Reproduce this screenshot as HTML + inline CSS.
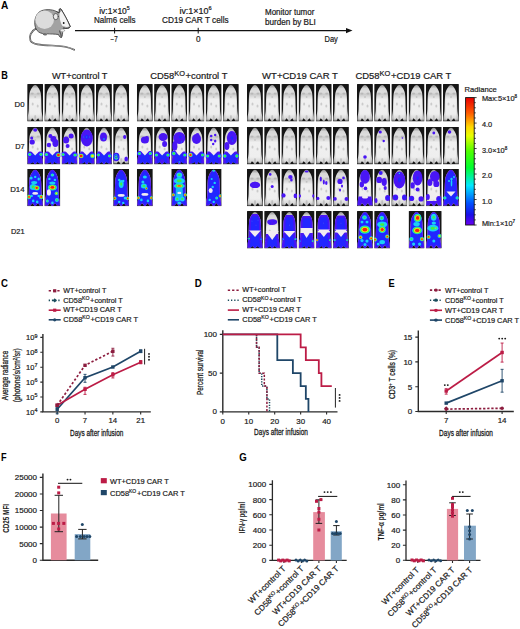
<!DOCTYPE html>
<html><head><meta charset="utf-8"><title>Figure</title>
<style>html,body{margin:0;padding:0;background:#fff;} svg{display:block;} text{font-family:"Liberation Sans", sans-serif;}</style>
</head><body>
<svg xmlns="http://www.w3.org/2000/svg" width="520" height="629" viewBox="0 0 520 629" font-family='"Liberation Sans", sans-serif'>
<rect width="520" height="629" fill="#fff"/>
<text x="1.0" y="9.3" font-size="10.6" font-weight="bold" textLength="7.3" lengthAdjust="spacingAndGlyphs" fill="#000">A</text>
<g stroke-linejoin="round" stroke-linecap="round">
<path d="M36.5,28.3 C31,31 28.6,36.5 30.5,40.6 C32.6,44.6 40,45.1 52,45.5 C62,45.8 69,46.9 74.2,49.8" fill="none" stroke-width="1.7" stroke="#4a4a4a"/>
<path d="M36.5,28.3 C31,31 28.6,36.5 30.5,40.6 C32.6,44.6 40,45.1 52,45.5 C62,45.8 69,46.9 74.2,49.8" fill="none" stroke-width="0.6" stroke="#c8c8c8"/>
<path d="M36,29 C33.5,24 34.5,15 40,11.5 C44,9 52,9 56.5,11.5 L59.1,13 L59.4,9.2 C59.8,8.3 61,8.5 62,10.6 C64.5,15 67.5,20 70.3,26.6 C69.6,28.5 66,29 63.5,28 L62.5,30.5 C62.8,33 62.5,36 61.5,37.4 C60,37.6 59.2,36.5 58.5,34.5 C55,34 50,34 47.5,33.8 C46.5,35.5 43.5,35.5 42.5,33.5 C39.5,33 37.5,31.5 36,29 Z" fill="#a2a2a2" stroke="#3a3a3a" stroke-width="0.8"/>
<ellipse cx="44.6" cy="19.8" rx="9.4" ry="9.2" fill="#dcdcdc"/>
<path d="M59.6,12.6 L61.9,11 C64.4,15.2 67.3,20.2 69.6,26.2 C67.8,27.2 65,27.1 62.6,26.1 C60.2,23 59.2,17 59.6,12.6 Z" fill="#f3f3f3"/>
<path d="M56.5,11.5 L59.1,13 L59.4,9.2 C59.8,8.3 61,8.5 62,10.6 C64.5,15 67.5,20 70.3,26.6 C69.6,28.5 66,29 63.5,28" fill="none" stroke="#3a3a3a" stroke-width="0.8"/>
<ellipse cx="55.8" cy="16.6" rx="2.5" ry="3.1" fill="#e9e9e9" stroke="#3f3f3f" stroke-width="0.75"/>
<circle cx="63.7" cy="23" r="0.9" fill="#111"/>
<path d="M59.6,31 C60.5,33 61.5,35 61.3,37.2" fill="none" stroke="#5a5a5a" stroke-width="1.3"/>
<ellipse cx="62.6" cy="30.4" rx="2.1" ry="1.4" fill="#ededed" stroke="#8a8a8a" stroke-width="0.4"/>
<path d="M43,33 C44,35 46,35 47,33.5" fill="#6a6a6a"/>
</g>
<line x1="75" y1="30.6" x2="348" y2="30.6" stroke="#111" stroke-width="1.1"/>
<path d="M346,27.9 L352.5,30.6 L346,33.3 Z" fill="#111"/>
<line x1="114.6" y1="27.8" x2="114.6" y2="33.5" stroke="#111" stroke-width="1"/>
<line x1="198.2" y1="27.8" x2="198.2" y2="33.5" stroke="#111" stroke-width="1"/>
<text x="99.2" y="13.6" font-size="8.2" textLength="30.6" lengthAdjust="spacingAndGlyphs" fill="#1a1a1a" stroke="#1a1a1a" stroke-width="0.2">iv:1×10<tspan font-size="5.08" dy="-3.12">5</tspan><tspan dy="3.12"></tspan></text>
<text x="94.0" y="23.0" font-size="8.2" textLength="41.6" lengthAdjust="spacingAndGlyphs" fill="#1a1a1a" stroke="#1a1a1a" stroke-width="0.2">Nalm6 cells</text>
<text x="110.6" y="42.0" font-size="8.2" textLength="7.0" lengthAdjust="spacingAndGlyphs" fill="#1a1a1a" stroke="#1a1a1a" stroke-width="0.2">−7</text>
<text x="179.4" y="13.6" font-size="8.2" textLength="32.3" lengthAdjust="spacingAndGlyphs" fill="#1a1a1a" stroke="#1a1a1a" stroke-width="0.2">iv:1×10<tspan font-size="5.08" dy="-3.12">6</tspan><tspan dy="3.12"></tspan></text>
<text x="162.0" y="23.0" font-size="8.2" textLength="66.6" lengthAdjust="spacingAndGlyphs" fill="#1a1a1a" stroke="#1a1a1a" stroke-width="0.2">CD19 CAR T cells</text>
<text x="198.3" y="42.0" font-size="8.2" text-anchor="middle" fill="#1a1a1a" stroke="#1a1a1a" stroke-width="0.2">0</text>
<text x="265.0" y="15.1" font-size="8.2" textLength="49.4" lengthAdjust="spacingAndGlyphs" fill="#1a1a1a" stroke="#1a1a1a" stroke-width="0.2">Monitor tumor</text>
<text x="265.0" y="24.7" font-size="8.2" textLength="50.8" lengthAdjust="spacingAndGlyphs" fill="#1a1a1a" stroke="#1a1a1a" stroke-width="0.2">burden by BLI</text>
<text x="324.5" y="41.9" font-size="8.2" textLength="13.3" lengthAdjust="spacingAndGlyphs" fill="#1a1a1a" stroke="#1a1a1a" stroke-width="0.2">Day</text>
<text x="1.2" y="78.5" font-size="10.6" font-weight="bold" textLength="6.6" lengthAdjust="spacingAndGlyphs" fill="#000">B</text>
<text x="51.9" y="79.0" font-size="9.5" textLength="55.6" lengthAdjust="spacingAndGlyphs" fill="#1a1a1a" stroke="#1a1a1a" stroke-width="0.2">WT+control T</text>
<text x="150.2" y="79.1" font-size="9.5" textLength="77.2" lengthAdjust="spacingAndGlyphs" fill="#1a1a1a" stroke="#1a1a1a" stroke-width="0.2">CD58<tspan font-size="7.5" dy="-3.3">KO</tspan><tspan dy="3.3" dx="0.6">+control T</tspan></text>
<text x="262.1" y="78.9" font-size="9.5" textLength="75.8" lengthAdjust="spacingAndGlyphs" fill="#1a1a1a" stroke="#1a1a1a" stroke-width="0.2">WT+CD19 CAR T</text>
<text x="355.4" y="78.9" font-size="9.5" textLength="95.9" lengthAdjust="spacingAndGlyphs" fill="#1a1a1a" stroke="#1a1a1a" stroke-width="0.2">CD58<tspan font-size="7.5" dy="-3.3">KO</tspan><tspan dy="3.3" dx="0.6">+CD19 CAR T</tspan></text>
<text x="24.6" y="107.0" font-size="7.9" text-anchor="end" textLength="10.0" lengthAdjust="spacingAndGlyphs" fill="#1a1a1a" stroke="#1a1a1a" stroke-width="0.2">D0</text>
<text x="24.6" y="149.3" font-size="7.9" text-anchor="end" textLength="9.4" lengthAdjust="spacingAndGlyphs" fill="#1a1a1a" stroke="#1a1a1a" stroke-width="0.2">D7</text>
<text x="24.6" y="191.8" font-size="7.9" text-anchor="end" textLength="14.4" lengthAdjust="spacingAndGlyphs" fill="#1a1a1a" stroke="#1a1a1a" stroke-width="0.2">D14</text>
<text x="24.6" y="233.8" font-size="7.9" text-anchor="end" textLength="13.6" lengthAdjust="spacingAndGlyphs" fill="#1a1a1a" stroke="#1a1a1a" stroke-width="0.2">D21</text>
<text x="464.6" y="92.2" font-size="7.6" fill="#1a1a1a" stroke="#1a1a1a" stroke-width="0.2">Radiance</text>
<defs><linearGradient id="cb" x1="0" y1="0" x2="0" y2="1">
<stop offset="0" stop-color="#e80000"/><stop offset="0.12" stop-color="#ff5a00"/><stop offset="0.23" stop-color="#ffd800"/>
<stop offset="0.3" stop-color="#e8ff00"/><stop offset="0.42" stop-color="#50ff00"/><stop offset="0.55" stop-color="#00ff30"/>
<stop offset="0.69" stop-color="#00e8ff"/><stop offset="0.83" stop-color="#0050ff"/><stop offset="0.92" stop-color="#1a10e8"/>
<stop offset="1" stop-color="#6a00f0"/></linearGradient></defs>
<rect x="465.6" y="97.6" width="8.6" height="127.4" fill="url(#cb)" stroke="#111" stroke-width="0.9"/>
<path d="M474.2,97.60h2.4 M474.2,102.70h1.6 M474.2,107.79h1.6 M474.2,112.89h1.6 M474.2,117.98h1.6 M474.2,123.08h2.4 M474.2,128.18h1.6 M474.2,133.27h1.6 M474.2,138.37h1.6 M474.2,143.46h1.6 M474.2,148.56h2.4 M474.2,153.66h1.6 M474.2,158.75h1.6 M474.2,163.85h1.6 M474.2,168.94h1.6 M474.2,174.04h2.4 M474.2,179.14h1.6 M474.2,184.23h1.6 M474.2,189.33h1.6 M474.2,194.42h1.6 M474.2,199.52h2.4 M474.2,204.62h1.6 M474.2,209.71h1.6 M474.2,214.81h1.6 M474.2,219.90h1.6 M474.2,225.00h2.4" stroke="#111" stroke-width="0.8"/>
<text x="481.9" y="100.9" font-size="7.4" fill="#1a1a1a" stroke="#1a1a1a" stroke-width="0.2">Max:5×10<tspan font-size="4.59" dy="-2.81">8</tspan><tspan dy="2.81"></tspan></text>
<text x="481.9" y="126.6" font-size="7.4" fill="#1a1a1a" stroke="#1a1a1a" stroke-width="0.2">4.0</text>
<text x="481.9" y="152.6" font-size="7.4" fill="#1a1a1a" stroke="#1a1a1a" stroke-width="0.2">3.0×10<tspan font-size="4.59" dy="-2.81">8</tspan><tspan dy="2.81"></tspan></text>
<text x="481.9" y="178.4" font-size="7.4" fill="#1a1a1a" stroke="#1a1a1a" stroke-width="0.2">2.0</text>
<text x="481.9" y="204.2" font-size="7.4" fill="#1a1a1a" stroke="#1a1a1a" stroke-width="0.2">1.0</text>
<text x="481.9" y="225.6" font-size="7.4" fill="#1a1a1a" stroke="#1a1a1a" stroke-width="0.2">Min:1×10<tspan font-size="4.59" dy="-2.81">7</tspan><tspan dy="2.81"></tspan></text>
<defs><filter id="bl" x="-20%" y="-20%" width="140%" height="140%"><feGaussianBlur stdDeviation="0.45"/></filter><filter id="bl2" x="-20%" y="-20%" width="140%" height="140%"><feGaussianBlur stdDeviation="0.3"/></filter><clipPath id="cell"><rect width="15.9" height="37.4"/></clipPath><clipPath id="mclip"><path d="M7.95,0.8 C9.3,0.8 10.2,1.8 10.8,3.2 C11.6,4.4 12.4,5.6 12.9,7.0 C13.5,8.5 13.8,10.5 13.9,12.5 C14.1,16 14.2,21 14.3,25 C14.4,28 14.9,30.5 15.3,33 L15.6,36.6 L12.3,36.6 L11.0,34.2 L9.5,35.6 L8.6,37.2 L7.3,37.2 L6.4,35.6 L4.9,34.2 L3.6,36.6 L0.3,36.6 L0.6,33 C1.0,30.5 1.5,28 1.6,25 C1.7,21 1.8,16 2.0,12.5 C2.1,10.5 2.4,8.5 3.0,7.0 C3.5,5.6 4.3,4.4 5.1,3.2 C5.7,1.8 6.6,0.8 7.95,0.8 Z"/></clipPath><linearGradient id="mg" x1="0" y1="0" x2="0" y2="1"><stop offset="0" stop-color="#8a8a8a"/><stop offset="0.1" stop-color="#d6d6d6"/><stop offset="0.2" stop-color="#dedede"/><stop offset="0.26" stop-color="#cbcbcb"/><stop offset="0.4" stop-color="#f0f0f0"/><stop offset="0.8" stop-color="#eeeeee"/><stop offset="0.92" stop-color="#d8d8d8"/><stop offset="1" stop-color="#929292"/></linearGradient><linearGradient id="mgx" x1="0" y1="0" x2="1" y2="0"><stop offset="0" stop-color="#000" stop-opacity="0.22"/><stop offset="0.18" stop-color="#000" stop-opacity="0"/><stop offset="0.82" stop-color="#000" stop-opacity="0"/><stop offset="1" stop-color="#000" stop-opacity="0.22"/></linearGradient><radialGradient id="halo" cx="0.5" cy="0" r="0.5"><stop offset="0" stop-color="#6a6a6a"/><stop offset="0.6" stop-color="#383838"/><stop offset="1" stop-color="#161616"/></radialGradient><g id="mbody"><rect width="15.9" height="37.4" fill="#151515"/><ellipse cx="8" cy="1" rx="7" ry="10" fill="url(#halo)"/><path d="M7.95,0.8 C9.3,0.8 10.2,1.8 10.8,3.2 C11.6,4.4 12.4,5.6 12.9,7.0 C13.5,8.5 13.8,10.5 13.9,12.5 C14.1,16 14.2,21 14.3,25 C14.4,28 14.9,30.5 15.3,33 L15.6,36.6 L12.3,36.6 L11.0,34.2 L9.5,35.6 L8.6,37.2 L7.3,37.2 L6.4,35.6 L4.9,34.2 L3.6,36.6 L0.3,36.6 L0.6,33 C1.0,30.5 1.5,28 1.6,25 C1.7,21 1.8,16 2.0,12.5 C2.1,10.5 2.4,8.5 3.0,7.0 C3.5,5.6 4.3,4.4 5.1,3.2 C5.7,1.8 6.6,0.8 7.95,0.8 Z" fill="url(#mg)" filter="url(#bl2)"/><path d="M7.95,0.8 C9.3,0.8 10.2,1.8 10.8,3.2 C11.6,4.4 12.4,5.6 12.9,7.0 C13.5,8.5 13.8,10.5 13.9,12.5 C14.1,16 14.2,21 14.3,25 C14.4,28 14.9,30.5 15.3,33 L15.6,36.6 L12.3,36.6 L11.0,34.2 L9.5,35.6 L8.6,37.2 L7.3,37.2 L6.4,35.6 L4.9,34.2 L3.6,36.6 L0.3,36.6 L0.6,33 C1.0,30.5 1.5,28 1.6,25 C1.7,21 1.8,16 2.0,12.5 C2.1,10.5 2.4,8.5 3.0,7.0 C3.5,5.6 4.3,4.4 5.1,3.2 C5.7,1.8 6.6,0.8 7.95,0.8 Z" fill="url(#mgx)"/><g fill="#8a8a8a" opacity="0.35" filter="url(#bl)"><ellipse cx="5" cy="9.5" rx="1.6" ry="1"/><ellipse cx="11" cy="9.5" rx="1.6" ry="1"/><ellipse cx="8" cy="13" rx="1" ry="0.8"/><ellipse cx="5.5" cy="20" rx="1" ry="1.5"/><ellipse cx="10.5" cy="22" rx="1" ry="1.5"/><ellipse cx="8" cy="33" rx="1" ry="2"/></g></g></defs>
<defs><clipPath id="b245_375"><rect x="-1" y="24.5" width="17.9" height="13.0"/></clipPath><clipPath id="b267_361"><rect x="-1" y="26.7" width="17.9" height="9.48"/></clipPath><clipPath id="b275_368"><rect x="-1" y="27.5" width="17.9" height="9.299999999999997"/></clipPath><clipPath id="b297_354"><rect x="-1" y="29.7" width="17.9" height="5.779999999999998"/></clipPath><clipPath id="b320_368"><rect x="-1" y="32" width="17.9" height="4.799999999999997"/></clipPath><clipPath id="b342_354"><rect x="-1" y="34.2" width="17.9" height="1.279999999999994"/></clipPath><clipPath id="b30_210"><rect x="-1" y="3" width="17.9" height="18"/></clipPath><clipPath id="b52_196"><rect x="-1" y="5.2" width="17.9" height="14.48"/></clipPath><clipPath id="b210_375"><rect x="-1" y="21" width="17.9" height="16.5"/></clipPath><clipPath id="b232_361"><rect x="-1" y="23.2" width="17.9" height="12.98"/></clipPath><clipPath id="b230_375"><rect x="-1" y="23" width="17.9" height="14.5"/></clipPath><clipPath id="b252_361"><rect x="-1" y="25.2" width="17.9" height="10.98"/></clipPath><clipPath id="b40_215"><rect x="-1" y="4" width="17.9" height="17.5"/></clipPath><clipPath id="b62_201"><rect x="-1" y="6.2" width="17.9" height="13.98"/></clipPath><clipPath id="b215_375"><rect x="-1" y="21.5" width="17.9" height="16.0"/></clipPath><clipPath id="b237_361"><rect x="-1" y="23.7" width="17.9" height="12.48"/></clipPath><clipPath id="b50_180"><rect x="-1" y="5" width="17.9" height="13"/></clipPath><clipPath id="b72_166"><rect x="-1" y="7.2" width="17.9" height="9.48"/></clipPath><clipPath id="b220_375"><rect x="-1" y="22" width="17.9" height="15.5"/></clipPath><clipPath id="b242_361"><rect x="-1" y="24.2" width="17.9" height="11.98"/></clipPath><clipPath id="b40_200"><rect x="-1" y="4" width="17.9" height="16"/></clipPath><clipPath id="b62_186"><rect x="-1" y="6.2" width="17.9" height="12.48"/></clipPath><clipPath id="b45_200"><rect x="-1" y="4.5" width="17.9" height="15.5"/></clipPath><clipPath id="b67_186"><rect x="-1" y="6.7" width="17.9" height="11.98"/></clipPath></defs>
<g transform="translate(27.20,84.10)" clip-path="url(#cell)"><use href="#mbody"/></g>
<g transform="translate(44.40,84.10)" clip-path="url(#cell)"><use href="#mbody"/></g>
<g transform="translate(61.60,84.10)" clip-path="url(#cell)"><use href="#mbody"/></g>
<g transform="translate(78.80,84.10)" clip-path="url(#cell)"><use href="#mbody"/></g>
<g transform="translate(96.00,84.10)" clip-path="url(#cell)"><use href="#mbody"/></g>
<g transform="translate(113.20,84.10)" clip-path="url(#cell)"><use href="#mbody"/></g>
<g transform="translate(136.90,84.10)" clip-path="url(#cell)"><use href="#mbody"/></g>
<g transform="translate(154.10,84.10)" clip-path="url(#cell)"><use href="#mbody"/></g>
<g transform="translate(171.30,84.10)" clip-path="url(#cell)"><use href="#mbody"/></g>
<g transform="translate(188.50,84.10)" clip-path="url(#cell)"><use href="#mbody"/></g>
<g transform="translate(205.70,84.10)" clip-path="url(#cell)"><use href="#mbody"/></g>
<g transform="translate(222.90,84.10)" clip-path="url(#cell)"><use href="#mbody"/></g>
<g transform="translate(247.00,84.10)" clip-path="url(#cell)"><use href="#mbody"/></g>
<g transform="translate(264.20,84.10)" clip-path="url(#cell)"><use href="#mbody"/></g>
<g transform="translate(281.40,84.10)" clip-path="url(#cell)"><use href="#mbody"/></g>
<g transform="translate(298.60,84.10)" clip-path="url(#cell)"><use href="#mbody"/></g>
<g transform="translate(315.80,84.10)" clip-path="url(#cell)"><use href="#mbody"/></g>
<g transform="translate(333.00,84.10)" clip-path="url(#cell)"><use href="#mbody"/></g>
<g transform="translate(357.00,84.10)" clip-path="url(#cell)"><use href="#mbody"/></g>
<g transform="translate(374.20,84.10)" clip-path="url(#cell)"><use href="#mbody"/></g>
<g transform="translate(391.40,84.10)" clip-path="url(#cell)"><use href="#mbody"/></g>
<g transform="translate(408.60,84.10)" clip-path="url(#cell)"><use href="#mbody"/></g>
<g transform="translate(425.80,84.10)" clip-path="url(#cell)"><use href="#mbody"/></g>
<g transform="translate(443.00,84.10)" clip-path="url(#cell)"><use href="#mbody"/></g>
<g transform="translate(27.20,127.00)" clip-path="url(#cell)"><use href="#mbody"/><g filter="url(#bl)"><ellipse cx="8" cy="3" rx="2.00" ry="1.80" fill="#4a14f5"/><ellipse cx="5" cy="15" rx="2.60" ry="2.60" fill="#4a14f5"/><ellipse cx="4.5" cy="11" rx="1.50" ry="1.50" fill="#4a14f5"/><path d="M7.95,0.8 C9.3,0.8 10.2,1.8 10.8,3.2 C11.6,4.4 12.4,5.6 12.9,7.0 C13.5,8.5 13.8,10.5 13.9,12.5 C14.1,16 14.2,21 14.3,25 C14.4,28 14.9,30.5 15.3,33 L15.6,36.6 L12.3,36.6 L11.0,34.2 L9.5,35.6 L8.6,37.2 L7.3,37.2 L6.4,35.6 L4.9,34.2 L3.6,36.6 L0.3,36.6 L0.6,33 C1.0,30.5 1.5,28 1.6,25 C1.7,21 1.8,16 2.0,12.5 C2.1,10.5 2.4,8.5 3.0,7.0 C3.5,5.6 4.3,4.4 5.1,3.2 C5.7,1.8 6.6,0.8 7.95,0.8 Z" fill="#4a14f5" clip-path="url(#b245_375)"/><path d="M7.95,0.8 C9.3,0.8 10.2,1.8 10.8,3.2 C11.6,4.4 12.4,5.6 12.9,7.0 C13.5,8.5 13.8,10.5 13.9,12.5 C14.1,16 14.2,21 14.3,25 C14.4,28 14.9,30.5 15.3,33 L15.6,36.6 L12.3,36.6 L11.0,34.2 L9.5,35.6 L8.6,37.2 L7.3,37.2 L6.4,35.6 L4.9,34.2 L3.6,36.6 L0.3,36.6 L0.6,33 C1.0,30.5 1.5,28 1.6,25 C1.7,21 1.8,16 2.0,12.5 C2.1,10.5 2.4,8.5 3.0,7.0 C3.5,5.6 4.3,4.4 5.1,3.2 C5.7,1.8 6.6,0.8 7.95,0.8 Z" fill="#2028ff" clip-path="url(#b267_361)" transform="translate(8,31.0) scale(0.66,1) translate(-8,-31.0)"/><path d="M3.2,23.5 L12.8,23.5 L8,28.5 Z" fill="#f2ecf2"/><ellipse cx="2.5" cy="27.5" rx="2.72" ry="2.38" fill="#4a14f5"/><ellipse cx="2.5" cy="27.5" rx="2.21" ry="1.94" fill="#2028ff"/><ellipse cx="2.5" cy="27.5" rx="1.70" ry="1.49" fill="#1ad0f5"/><ellipse cx="2.5" cy="27.5" rx="1.20" ry="1.05" fill="#40f040"/><ellipse cx="13.8" cy="27.5" rx="2.72" ry="2.38" fill="#4a14f5"/><ellipse cx="13.8" cy="27.5" rx="2.21" ry="1.94" fill="#2028ff"/><ellipse cx="13.8" cy="27.5" rx="1.70" ry="1.49" fill="#1ad0f5"/><ellipse cx="13.8" cy="27.5" rx="1.20" ry="1.05" fill="#40f040"/></g></g>
<g transform="translate(44.40,127.00)" clip-path="url(#cell)"><use href="#mbody"/><g filter="url(#bl)"><ellipse cx="6" cy="9" rx="2.00" ry="2.00" fill="#4a14f5"/><ellipse cx="9" cy="12" rx="3.00" ry="3.00" fill="#4a14f5"/><ellipse cx="11" cy="16" rx="3.00" ry="4.00" fill="#4a14f5"/><ellipse cx="4.5" cy="18" rx="2.20" ry="2.20" fill="#4a14f5"/><path d="M7.95,0.8 C9.3,0.8 10.2,1.8 10.8,3.2 C11.6,4.4 12.4,5.6 12.9,7.0 C13.5,8.5 13.8,10.5 13.9,12.5 C14.1,16 14.2,21 14.3,25 C14.4,28 14.9,30.5 15.3,33 L15.6,36.6 L12.3,36.6 L11.0,34.2 L9.5,35.6 L8.6,37.2 L7.3,37.2 L6.4,35.6 L4.9,34.2 L3.6,36.6 L0.3,36.6 L0.6,33 C1.0,30.5 1.5,28 1.6,25 C1.7,21 1.8,16 2.0,12.5 C2.1,10.5 2.4,8.5 3.0,7.0 C3.5,5.6 4.3,4.4 5.1,3.2 C5.7,1.8 6.6,0.8 7.95,0.8 Z" fill="#4a14f5" clip-path="url(#b245_375)"/><path d="M7.95,0.8 C9.3,0.8 10.2,1.8 10.8,3.2 C11.6,4.4 12.4,5.6 12.9,7.0 C13.5,8.5 13.8,10.5 13.9,12.5 C14.1,16 14.2,21 14.3,25 C14.4,28 14.9,30.5 15.3,33 L15.6,36.6 L12.3,36.6 L11.0,34.2 L9.5,35.6 L8.6,37.2 L7.3,37.2 L6.4,35.6 L4.9,34.2 L3.6,36.6 L0.3,36.6 L0.6,33 C1.0,30.5 1.5,28 1.6,25 C1.7,21 1.8,16 2.0,12.5 C2.1,10.5 2.4,8.5 3.0,7.0 C3.5,5.6 4.3,4.4 5.1,3.2 C5.7,1.8 6.6,0.8 7.95,0.8 Z" fill="#2028ff" clip-path="url(#b267_361)" transform="translate(8,31.0) scale(0.66,1) translate(-8,-31.0)"/><path d="M3.2,23.5 L12.8,23.5 L8,28.5 Z" fill="#f2ecf2"/><ellipse cx="2" cy="27.5" rx="2.55" ry="2.55" fill="#4a14f5"/><ellipse cx="2" cy="27.5" rx="2.07" ry="2.07" fill="#2028ff"/><ellipse cx="2" cy="27.5" rx="1.60" ry="1.60" fill="#1ad0f5"/><ellipse cx="2" cy="27.5" rx="1.12" ry="1.12" fill="#40f040"/><ellipse cx="14" cy="28" rx="3.06" ry="2.72" fill="#4a14f5"/><ellipse cx="14" cy="28" rx="2.72" ry="2.42" fill="#2028ff"/><ellipse cx="14" cy="28" rx="2.37" ry="2.11" fill="#1ad0f5"/><ellipse cx="14" cy="28" rx="2.03" ry="1.81" fill="#40f040"/><ellipse cx="14" cy="28" rx="1.69" ry="1.50" fill="#f0e818"/><ellipse cx="14" cy="28" rx="1.35" ry="1.20" fill="#f82010"/></g></g>
<g transform="translate(61.60,127.00)" clip-path="url(#cell)"><use href="#mbody"/><g filter="url(#bl)"><ellipse cx="4.5" cy="13" rx="3.00" ry="3.50" fill="#4a14f5"/><ellipse cx="9.5" cy="9" rx="2.50" ry="2.50" fill="#4a14f5"/><ellipse cx="6" cy="19" rx="2.00" ry="2.00" fill="#4a14f5"/><path d="M7.95,0.8 C9.3,0.8 10.2,1.8 10.8,3.2 C11.6,4.4 12.4,5.6 12.9,7.0 C13.5,8.5 13.8,10.5 13.9,12.5 C14.1,16 14.2,21 14.3,25 C14.4,28 14.9,30.5 15.3,33 L15.6,36.6 L12.3,36.6 L11.0,34.2 L9.5,35.6 L8.6,37.2 L7.3,37.2 L6.4,35.6 L4.9,34.2 L3.6,36.6 L0.3,36.6 L0.6,33 C1.0,30.5 1.5,28 1.6,25 C1.7,21 1.8,16 2.0,12.5 C2.1,10.5 2.4,8.5 3.0,7.0 C3.5,5.6 4.3,4.4 5.1,3.2 C5.7,1.8 6.6,0.8 7.95,0.8 Z" fill="#4a14f5" clip-path="url(#b245_375)"/><path d="M7.95,0.8 C9.3,0.8 10.2,1.8 10.8,3.2 C11.6,4.4 12.4,5.6 12.9,7.0 C13.5,8.5 13.8,10.5 13.9,12.5 C14.1,16 14.2,21 14.3,25 C14.4,28 14.9,30.5 15.3,33 L15.6,36.6 L12.3,36.6 L11.0,34.2 L9.5,35.6 L8.6,37.2 L7.3,37.2 L6.4,35.6 L4.9,34.2 L3.6,36.6 L0.3,36.6 L0.6,33 C1.0,30.5 1.5,28 1.6,25 C1.7,21 1.8,16 2.0,12.5 C2.1,10.5 2.4,8.5 3.0,7.0 C3.5,5.6 4.3,4.4 5.1,3.2 C5.7,1.8 6.6,0.8 7.95,0.8 Z" fill="#2028ff" clip-path="url(#b267_361)" transform="translate(8,31.0) scale(0.66,1) translate(-8,-31.0)"/><path d="M3.2,23.5 L12.8,23.5 L8,28.5 Z" fill="#f2ecf2"/><ellipse cx="1.5" cy="27.5" rx="2.55" ry="2.55" fill="#4a14f5"/><ellipse cx="1.5" cy="27.5" rx="2.07" ry="2.07" fill="#2028ff"/><ellipse cx="1.5" cy="27.5" rx="1.60" ry="1.60" fill="#1ad0f5"/><ellipse cx="1.5" cy="27.5" rx="1.12" ry="1.12" fill="#40f040"/><ellipse cx="13.5" cy="28" rx="2.89" ry="2.55" fill="#4a14f5"/><ellipse cx="13.5" cy="28" rx="2.35" ry="2.07" fill="#2028ff"/><ellipse cx="13.5" cy="28" rx="1.81" ry="1.60" fill="#1ad0f5"/><ellipse cx="13.5" cy="28" rx="1.27" ry="1.12" fill="#40f040"/></g></g>
<g transform="translate(78.80,127.00)" clip-path="url(#cell)"><use href="#mbody"/><g filter="url(#bl)"><ellipse cx="8" cy="11" rx="6.00" ry="8.50" fill="#4a14f5"/><ellipse cx="8" cy="10" rx="4.50" ry="5.00" fill="#4a14f5"/><ellipse cx="8" cy="10" rx="1.98" ry="2.20" fill="#2028ff"/><ellipse cx="5" cy="10" rx="1.00" ry="1.00" fill="#4a14f5"/><ellipse cx="5" cy="10" rx="0.72" ry="0.72" fill="#2028ff"/><ellipse cx="5" cy="10" rx="0.44" ry="0.44" fill="#1ad0f5"/><ellipse cx="8" cy="10" rx="1.00" ry="1.00" fill="#4a14f5"/><ellipse cx="8" cy="10" rx="0.72" ry="0.72" fill="#2028ff"/><ellipse cx="8" cy="10" rx="0.44" ry="0.44" fill="#1ad0f5"/><ellipse cx="11" cy="10" rx="1.00" ry="1.00" fill="#4a14f5"/><ellipse cx="11" cy="10" rx="0.72" ry="0.72" fill="#2028ff"/><ellipse cx="11" cy="10" rx="0.44" ry="0.44" fill="#1ad0f5"/><path d="M7.95,0.8 C9.3,0.8 10.2,1.8 10.8,3.2 C11.6,4.4 12.4,5.6 12.9,7.0 C13.5,8.5 13.8,10.5 13.9,12.5 C14.1,16 14.2,21 14.3,25 C14.4,28 14.9,30.5 15.3,33 L15.6,36.6 L12.3,36.6 L11.0,34.2 L9.5,35.6 L8.6,37.2 L7.3,37.2 L6.4,35.6 L4.9,34.2 L3.6,36.6 L0.3,36.6 L0.6,33 C1.0,30.5 1.5,28 1.6,25 C1.7,21 1.8,16 2.0,12.5 C2.1,10.5 2.4,8.5 3.0,7.0 C3.5,5.6 4.3,4.4 5.1,3.2 C5.7,1.8 6.6,0.8 7.95,0.8 Z" fill="#4a14f5" clip-path="url(#b245_375)"/><path d="M7.95,0.8 C9.3,0.8 10.2,1.8 10.8,3.2 C11.6,4.4 12.4,5.6 12.9,7.0 C13.5,8.5 13.8,10.5 13.9,12.5 C14.1,16 14.2,21 14.3,25 C14.4,28 14.9,30.5 15.3,33 L15.6,36.6 L12.3,36.6 L11.0,34.2 L9.5,35.6 L8.6,37.2 L7.3,37.2 L6.4,35.6 L4.9,34.2 L3.6,36.6 L0.3,36.6 L0.6,33 C1.0,30.5 1.5,28 1.6,25 C1.7,21 1.8,16 2.0,12.5 C2.1,10.5 2.4,8.5 3.0,7.0 C3.5,5.6 4.3,4.4 5.1,3.2 C5.7,1.8 6.6,0.8 7.95,0.8 Z" fill="#2028ff" clip-path="url(#b267_361)" transform="translate(8,31.0) scale(0.66,1) translate(-8,-31.0)"/><path d="M3.2,23.5 L12.8,23.5 L8,28.5 Z" fill="#f2ecf2"/><ellipse cx="2.3" cy="29" rx="3.23" ry="3.06" fill="#4a14f5"/><ellipse cx="2.3" cy="29" rx="2.87" ry="2.72" fill="#2028ff"/><ellipse cx="2.3" cy="29" rx="2.51" ry="2.37" fill="#1ad0f5"/><ellipse cx="2.3" cy="29" rx="2.14" ry="2.03" fill="#40f040"/><ellipse cx="2.3" cy="29" rx="1.78" ry="1.69" fill="#f0e818"/><ellipse cx="2.3" cy="29" rx="1.42" ry="1.35" fill="#f82010"/><ellipse cx="13.7" cy="29" rx="3.23" ry="3.06" fill="#4a14f5"/><ellipse cx="13.7" cy="29" rx="2.78" ry="2.63" fill="#2028ff"/><ellipse cx="13.7" cy="29" rx="2.33" ry="2.20" fill="#1ad0f5"/><ellipse cx="13.7" cy="29" rx="1.87" ry="1.77" fill="#40f040"/><ellipse cx="13.7" cy="29" rx="1.42" ry="1.35" fill="#f0e818"/></g></g>
<g transform="translate(96.00,127.00)" clip-path="url(#cell)"><use href="#mbody"/><g filter="url(#bl)"><ellipse cx="7.5" cy="10" rx="3.50" ry="4.50" fill="#4a14f5"/><ellipse cx="8" cy="12" rx="1.50" ry="1.50" fill="#4a14f5"/><ellipse cx="8" cy="12" rx="1.08" ry="1.08" fill="#2028ff"/><ellipse cx="8" cy="12" rx="0.66" ry="0.66" fill="#1ad0f5"/><path d="M7.95,0.8 C9.3,0.8 10.2,1.8 10.8,3.2 C11.6,4.4 12.4,5.6 12.9,7.0 C13.5,8.5 13.8,10.5 13.9,12.5 C14.1,16 14.2,21 14.3,25 C14.4,28 14.9,30.5 15.3,33 L15.6,36.6 L12.3,36.6 L11.0,34.2 L9.5,35.6 L8.6,37.2 L7.3,37.2 L6.4,35.6 L4.9,34.2 L3.6,36.6 L0.3,36.6 L0.6,33 C1.0,30.5 1.5,28 1.6,25 C1.7,21 1.8,16 2.0,12.5 C2.1,10.5 2.4,8.5 3.0,7.0 C3.5,5.6 4.3,4.4 5.1,3.2 C5.7,1.8 6.6,0.8 7.95,0.8 Z" fill="#4a14f5" clip-path="url(#b245_375)"/><path d="M7.95,0.8 C9.3,0.8 10.2,1.8 10.8,3.2 C11.6,4.4 12.4,5.6 12.9,7.0 C13.5,8.5 13.8,10.5 13.9,12.5 C14.1,16 14.2,21 14.3,25 C14.4,28 14.9,30.5 15.3,33 L15.6,36.6 L12.3,36.6 L11.0,34.2 L9.5,35.6 L8.6,37.2 L7.3,37.2 L6.4,35.6 L4.9,34.2 L3.6,36.6 L0.3,36.6 L0.6,33 C1.0,30.5 1.5,28 1.6,25 C1.7,21 1.8,16 2.0,12.5 C2.1,10.5 2.4,8.5 3.0,7.0 C3.5,5.6 4.3,4.4 5.1,3.2 C5.7,1.8 6.6,0.8 7.95,0.8 Z" fill="#2028ff" clip-path="url(#b267_361)" transform="translate(8,31.0) scale(0.66,1) translate(-8,-31.0)"/><path d="M3.2,23.5 L12.8,23.5 L8,28.5 Z" fill="#f2ecf2"/><ellipse cx="13.5" cy="29" rx="2.55" ry="2.38" fill="#4a14f5"/><ellipse cx="13.5" cy="29" rx="2.07" ry="1.94" fill="#2028ff"/><ellipse cx="13.5" cy="29" rx="1.60" ry="1.49" fill="#1ad0f5"/><ellipse cx="13.5" cy="29" rx="1.12" ry="1.05" fill="#40f040"/><ellipse cx="2.5" cy="28" rx="2.21" ry="2.21" fill="#4a14f5"/><ellipse cx="2.5" cy="28" rx="1.80" ry="1.80" fill="#2028ff"/><ellipse cx="2.5" cy="28" rx="1.38" ry="1.38" fill="#1ad0f5"/><ellipse cx="2.5" cy="28" rx="0.97" ry="0.97" fill="#40f040"/></g></g>
<g transform="translate(113.20,127.00)" clip-path="url(#cell)"><use href="#mbody"/><g filter="url(#bl)"><ellipse cx="11.5" cy="10" rx="1.60" ry="2.00" fill="#4a14f5"/><ellipse cx="3" cy="30" rx="3.40" ry="4.25" fill="#4a14f5"/><ellipse cx="3" cy="30" rx="2.77" ry="3.46" fill="#2028ff"/><ellipse cx="3" cy="30" rx="2.13" ry="2.66" fill="#1ad0f5"/><ellipse cx="3" cy="30" rx="1.50" ry="1.87" fill="#40f040"/><ellipse cx="3" cy="29.5" rx="1.70" ry="1.70" fill="#4a14f5"/><ellipse cx="3" cy="29.5" rx="1.38" ry="1.38" fill="#2028ff"/><ellipse cx="3" cy="29.5" rx="1.07" ry="1.07" fill="#1ad0f5"/><ellipse cx="3" cy="29.5" rx="0.75" ry="0.75" fill="#40f040"/><ellipse cx="13" cy="32" rx="1.80" ry="2.50" fill="#4a14f5"/></g></g>
<g transform="translate(136.90,127.00)" clip-path="url(#cell)"><use href="#mbody"/><g filter="url(#bl)"><ellipse cx="8" cy="13" rx="4.00" ry="3.50" fill="#4a14f5"/><ellipse cx="10" cy="11" rx="2.00" ry="2.00" fill="#4a14f5"/><path d="M7.95,0.8 C9.3,0.8 10.2,1.8 10.8,3.2 C11.6,4.4 12.4,5.6 12.9,7.0 C13.5,8.5 13.8,10.5 13.9,12.5 C14.1,16 14.2,21 14.3,25 C14.4,28 14.9,30.5 15.3,33 L15.6,36.6 L12.3,36.6 L11.0,34.2 L9.5,35.6 L8.6,37.2 L7.3,37.2 L6.4,35.6 L4.9,34.2 L3.6,36.6 L0.3,36.6 L0.6,33 C1.0,30.5 1.5,28 1.6,25 C1.7,21 1.8,16 2.0,12.5 C2.1,10.5 2.4,8.5 3.0,7.0 C3.5,5.6 4.3,4.4 5.1,3.2 C5.7,1.8 6.6,0.8 7.95,0.8 Z" fill="#4a14f5" clip-path="url(#b245_375)"/><path d="M7.95,0.8 C9.3,0.8 10.2,1.8 10.8,3.2 C11.6,4.4 12.4,5.6 12.9,7.0 C13.5,8.5 13.8,10.5 13.9,12.5 C14.1,16 14.2,21 14.3,25 C14.4,28 14.9,30.5 15.3,33 L15.6,36.6 L12.3,36.6 L11.0,34.2 L9.5,35.6 L8.6,37.2 L7.3,37.2 L6.4,35.6 L4.9,34.2 L3.6,36.6 L0.3,36.6 L0.6,33 C1.0,30.5 1.5,28 1.6,25 C1.7,21 1.8,16 2.0,12.5 C2.1,10.5 2.4,8.5 3.0,7.0 C3.5,5.6 4.3,4.4 5.1,3.2 C5.7,1.8 6.6,0.8 7.95,0.8 Z" fill="#2028ff" clip-path="url(#b267_361)" transform="translate(8,31.0) scale(0.66,1) translate(-8,-31.0)"/><path d="M3.2,23.5 L12.8,23.5 L8,28.5 Z" fill="#f2ecf2"/><ellipse cx="2.5" cy="26.5" rx="2.55" ry="2.55" fill="#4a14f5"/><ellipse cx="2.5" cy="26.5" rx="2.07" ry="2.07" fill="#2028ff"/><ellipse cx="2.5" cy="26.5" rx="1.60" ry="1.60" fill="#1ad0f5"/><ellipse cx="2.5" cy="26.5" rx="1.12" ry="1.12" fill="#40f040"/><ellipse cx="13.5" cy="26.5" rx="2.55" ry="2.55" fill="#4a14f5"/><ellipse cx="13.5" cy="26.5" rx="2.07" ry="2.07" fill="#2028ff"/><ellipse cx="13.5" cy="26.5" rx="1.60" ry="1.60" fill="#1ad0f5"/><ellipse cx="13.5" cy="26.5" rx="1.12" ry="1.12" fill="#40f040"/></g></g>
<g transform="translate(154.10,127.00)" clip-path="url(#cell)"><use href="#mbody"/><g filter="url(#bl)"><ellipse cx="9" cy="10" rx="4.50" ry="4.00" fill="#4a14f5"/><ellipse cx="10.5" cy="17" rx="2.50" ry="3.00" fill="#4a14f5"/><path d="M7.95,0.8 C9.3,0.8 10.2,1.8 10.8,3.2 C11.6,4.4 12.4,5.6 12.9,7.0 C13.5,8.5 13.8,10.5 13.9,12.5 C14.1,16 14.2,21 14.3,25 C14.4,28 14.9,30.5 15.3,33 L15.6,36.6 L12.3,36.6 L11.0,34.2 L9.5,35.6 L8.6,37.2 L7.3,37.2 L6.4,35.6 L4.9,34.2 L3.6,36.6 L0.3,36.6 L0.6,33 C1.0,30.5 1.5,28 1.6,25 C1.7,21 1.8,16 2.0,12.5 C2.1,10.5 2.4,8.5 3.0,7.0 C3.5,5.6 4.3,4.4 5.1,3.2 C5.7,1.8 6.6,0.8 7.95,0.8 Z" fill="#4a14f5" clip-path="url(#b245_375)"/><path d="M7.95,0.8 C9.3,0.8 10.2,1.8 10.8,3.2 C11.6,4.4 12.4,5.6 12.9,7.0 C13.5,8.5 13.8,10.5 13.9,12.5 C14.1,16 14.2,21 14.3,25 C14.4,28 14.9,30.5 15.3,33 L15.6,36.6 L12.3,36.6 L11.0,34.2 L9.5,35.6 L8.6,37.2 L7.3,37.2 L6.4,35.6 L4.9,34.2 L3.6,36.6 L0.3,36.6 L0.6,33 C1.0,30.5 1.5,28 1.6,25 C1.7,21 1.8,16 2.0,12.5 C2.1,10.5 2.4,8.5 3.0,7.0 C3.5,5.6 4.3,4.4 5.1,3.2 C5.7,1.8 6.6,0.8 7.95,0.8 Z" fill="#2028ff" clip-path="url(#b267_361)" transform="translate(8,31.0) scale(0.66,1) translate(-8,-31.0)"/><path d="M3.2,23.5 L12.8,23.5 L8,28.5 Z" fill="#f2ecf2"/><ellipse cx="2.3" cy="28" rx="2.55" ry="2.55" fill="#4a14f5"/><ellipse cx="2.3" cy="28" rx="2.07" ry="2.07" fill="#2028ff"/><ellipse cx="2.3" cy="28" rx="1.60" ry="1.60" fill="#1ad0f5"/><ellipse cx="2.3" cy="28" rx="1.12" ry="1.12" fill="#40f040"/><ellipse cx="13.8" cy="28" rx="2.55" ry="2.55" fill="#4a14f5"/><ellipse cx="13.8" cy="28" rx="2.07" ry="2.07" fill="#2028ff"/><ellipse cx="13.8" cy="28" rx="1.60" ry="1.60" fill="#1ad0f5"/><ellipse cx="13.8" cy="28" rx="1.12" ry="1.12" fill="#40f040"/><ellipse cx="8" cy="34" rx="2.00" ry="2.00" fill="#4a14f5"/></g></g>
<g transform="translate(171.30,127.00)" clip-path="url(#cell)"><use href="#mbody"/><g filter="url(#bl)"><ellipse cx="8" cy="11" rx="6.00" ry="6.00" fill="#4a14f5"/><ellipse cx="9" cy="10" rx="3.00" ry="3.00" fill="#4a14f5"/><ellipse cx="9" cy="10" rx="1.32" ry="1.32" fill="#2028ff"/><ellipse cx="10" cy="15" rx="1.00" ry="1.00" fill="#4a14f5"/><ellipse cx="10" cy="15" rx="0.72" ry="0.72" fill="#2028ff"/><ellipse cx="10" cy="15" rx="0.44" ry="0.44" fill="#1ad0f5"/><ellipse cx="3.5" cy="19" rx="2.50" ry="5.00" fill="#4a14f5"/><path d="M7.95,0.8 C9.3,0.8 10.2,1.8 10.8,3.2 C11.6,4.4 12.4,5.6 12.9,7.0 C13.5,8.5 13.8,10.5 13.9,12.5 C14.1,16 14.2,21 14.3,25 C14.4,28 14.9,30.5 15.3,33 L15.6,36.6 L12.3,36.6 L11.0,34.2 L9.5,35.6 L8.6,37.2 L7.3,37.2 L6.4,35.6 L4.9,34.2 L3.6,36.6 L0.3,36.6 L0.6,33 C1.0,30.5 1.5,28 1.6,25 C1.7,21 1.8,16 2.0,12.5 C2.1,10.5 2.4,8.5 3.0,7.0 C3.5,5.6 4.3,4.4 5.1,3.2 C5.7,1.8 6.6,0.8 7.95,0.8 Z" fill="#4a14f5" clip-path="url(#b245_375)"/><path d="M7.95,0.8 C9.3,0.8 10.2,1.8 10.8,3.2 C11.6,4.4 12.4,5.6 12.9,7.0 C13.5,8.5 13.8,10.5 13.9,12.5 C14.1,16 14.2,21 14.3,25 C14.4,28 14.9,30.5 15.3,33 L15.6,36.6 L12.3,36.6 L11.0,34.2 L9.5,35.6 L8.6,37.2 L7.3,37.2 L6.4,35.6 L4.9,34.2 L3.6,36.6 L0.3,36.6 L0.6,33 C1.0,30.5 1.5,28 1.6,25 C1.7,21 1.8,16 2.0,12.5 C2.1,10.5 2.4,8.5 3.0,7.0 C3.5,5.6 4.3,4.4 5.1,3.2 C5.7,1.8 6.6,0.8 7.95,0.8 Z" fill="#2028ff" clip-path="url(#b267_361)" transform="translate(8,31.0) scale(0.66,1) translate(-8,-31.0)"/><path d="M3.2,23.5 L12.8,23.5 L8,28.5 Z" fill="#f2ecf2"/><ellipse cx="2.5" cy="26.5" rx="2.89" ry="2.72" fill="#4a14f5"/><ellipse cx="2.5" cy="26.5" rx="2.35" ry="2.21" fill="#2028ff"/><ellipse cx="2.5" cy="26.5" rx="1.81" ry="1.70" fill="#1ad0f5"/><ellipse cx="2.5" cy="26.5" rx="1.27" ry="1.20" fill="#40f040"/><ellipse cx="13.5" cy="28" rx="2.55" ry="2.55" fill="#4a14f5"/><ellipse cx="13.5" cy="28" rx="2.07" ry="2.07" fill="#2028ff"/><ellipse cx="13.5" cy="28" rx="1.60" ry="1.60" fill="#1ad0f5"/><ellipse cx="13.5" cy="28" rx="1.12" ry="1.12" fill="#40f040"/><ellipse cx="8" cy="35" rx="1.50" ry="1.50" fill="#4a14f5"/><ellipse cx="8" cy="35" rx="1.08" ry="1.08" fill="#2028ff"/><ellipse cx="8" cy="35" rx="0.66" ry="0.66" fill="#1ad0f5"/></g></g>
<g transform="translate(188.50,127.00)" clip-path="url(#cell)"><use href="#mbody"/><g filter="url(#bl)"><ellipse cx="8" cy="12" rx="4.50" ry="5.00" fill="#4a14f5"/><ellipse cx="9" cy="8" rx="2.00" ry="2.00" fill="#4a14f5"/><path d="M7.95,0.8 C9.3,0.8 10.2,1.8 10.8,3.2 C11.6,4.4 12.4,5.6 12.9,7.0 C13.5,8.5 13.8,10.5 13.9,12.5 C14.1,16 14.2,21 14.3,25 C14.4,28 14.9,30.5 15.3,33 L15.6,36.6 L12.3,36.6 L11.0,34.2 L9.5,35.6 L8.6,37.2 L7.3,37.2 L6.4,35.6 L4.9,34.2 L3.6,36.6 L0.3,36.6 L0.6,33 C1.0,30.5 1.5,28 1.6,25 C1.7,21 1.8,16 2.0,12.5 C2.1,10.5 2.4,8.5 3.0,7.0 C3.5,5.6 4.3,4.4 5.1,3.2 C5.7,1.8 6.6,0.8 7.95,0.8 Z" fill="#4a14f5" clip-path="url(#b245_375)"/><path d="M7.95,0.8 C9.3,0.8 10.2,1.8 10.8,3.2 C11.6,4.4 12.4,5.6 12.9,7.0 C13.5,8.5 13.8,10.5 13.9,12.5 C14.1,16 14.2,21 14.3,25 C14.4,28 14.9,30.5 15.3,33 L15.6,36.6 L12.3,36.6 L11.0,34.2 L9.5,35.6 L8.6,37.2 L7.3,37.2 L6.4,35.6 L4.9,34.2 L3.6,36.6 L0.3,36.6 L0.6,33 C1.0,30.5 1.5,28 1.6,25 C1.7,21 1.8,16 2.0,12.5 C2.1,10.5 2.4,8.5 3.0,7.0 C3.5,5.6 4.3,4.4 5.1,3.2 C5.7,1.8 6.6,0.8 7.95,0.8 Z" fill="#2028ff" clip-path="url(#b267_361)" transform="translate(8,31.0) scale(0.66,1) translate(-8,-31.0)"/><path d="M3.2,23.5 L12.8,23.5 L8,28.5 Z" fill="#f2ecf2"/><ellipse cx="2" cy="28" rx="2.72" ry="2.55" fill="#4a14f5"/><ellipse cx="2" cy="28" rx="2.42" ry="2.26" fill="#2028ff"/><ellipse cx="2" cy="28" rx="2.11" ry="1.98" fill="#1ad0f5"/><ellipse cx="2" cy="28" rx="1.81" ry="1.69" fill="#40f040"/><ellipse cx="2" cy="28" rx="1.50" ry="1.41" fill="#f0e818"/><ellipse cx="2" cy="28" rx="1.20" ry="1.12" fill="#f82010"/><ellipse cx="14" cy="28" rx="2.55" ry="2.55" fill="#4a14f5"/><ellipse cx="14" cy="28" rx="2.07" ry="2.07" fill="#2028ff"/><ellipse cx="14" cy="28" rx="1.60" ry="1.60" fill="#1ad0f5"/><ellipse cx="14" cy="28" rx="1.12" ry="1.12" fill="#40f040"/></g></g>
<g transform="translate(205.70,127.00)" clip-path="url(#cell)"><use href="#mbody"/><g filter="url(#bl)"><ellipse cx="5.5" cy="9" rx="1.30" ry="1.30" fill="#4a14f5"/><ellipse cx="9.5" cy="8" rx="1.20" ry="1.20" fill="#4a14f5"/><ellipse cx="5.5" cy="13" rx="1.20" ry="1.20" fill="#4a14f5"/><ellipse cx="9.5" cy="14" rx="1.20" ry="1.50" fill="#4a14f5"/><ellipse cx="7.5" cy="17" rx="1.20" ry="1.20" fill="#4a14f5"/><path d="M7.95,0.8 C9.3,0.8 10.2,1.8 10.8,3.2 C11.6,4.4 12.4,5.6 12.9,7.0 C13.5,8.5 13.8,10.5 13.9,12.5 C14.1,16 14.2,21 14.3,25 C14.4,28 14.9,30.5 15.3,33 L15.6,36.6 L12.3,36.6 L11.0,34.2 L9.5,35.6 L8.6,37.2 L7.3,37.2 L6.4,35.6 L4.9,34.2 L3.6,36.6 L0.3,36.6 L0.6,33 C1.0,30.5 1.5,28 1.6,25 C1.7,21 1.8,16 2.0,12.5 C2.1,10.5 2.4,8.5 3.0,7.0 C3.5,5.6 4.3,4.4 5.1,3.2 C5.7,1.8 6.6,0.8 7.95,0.8 Z" fill="#4a14f5" clip-path="url(#b245_375)"/><path d="M7.95,0.8 C9.3,0.8 10.2,1.8 10.8,3.2 C11.6,4.4 12.4,5.6 12.9,7.0 C13.5,8.5 13.8,10.5 13.9,12.5 C14.1,16 14.2,21 14.3,25 C14.4,28 14.9,30.5 15.3,33 L15.6,36.6 L12.3,36.6 L11.0,34.2 L9.5,35.6 L8.6,37.2 L7.3,37.2 L6.4,35.6 L4.9,34.2 L3.6,36.6 L0.3,36.6 L0.6,33 C1.0,30.5 1.5,28 1.6,25 C1.7,21 1.8,16 2.0,12.5 C2.1,10.5 2.4,8.5 3.0,7.0 C3.5,5.6 4.3,4.4 5.1,3.2 C5.7,1.8 6.6,0.8 7.95,0.8 Z" fill="#2028ff" clip-path="url(#b267_361)" transform="translate(8,31.0) scale(0.66,1) translate(-8,-31.0)"/><path d="M3.2,23.5 L12.8,23.5 L8,28.5 Z" fill="#f2ecf2"/><ellipse cx="2" cy="29" rx="2.55" ry="2.55" fill="#4a14f5"/><ellipse cx="2" cy="29" rx="2.07" ry="2.07" fill="#2028ff"/><ellipse cx="2" cy="29" rx="1.60" ry="1.60" fill="#1ad0f5"/><ellipse cx="2" cy="29" rx="1.12" ry="1.12" fill="#40f040"/><ellipse cx="13.5" cy="29" rx="2.55" ry="2.55" fill="#4a14f5"/><ellipse cx="13.5" cy="29" rx="2.07" ry="2.07" fill="#2028ff"/><ellipse cx="13.5" cy="29" rx="1.60" ry="1.60" fill="#1ad0f5"/><ellipse cx="13.5" cy="29" rx="1.12" ry="1.12" fill="#40f040"/></g></g>
<g transform="translate(222.90,127.00)" clip-path="url(#cell)"><use href="#mbody"/><g filter="url(#bl)"><ellipse cx="9" cy="11" rx="5.00" ry="7.00" fill="#4a14f5"/><ellipse cx="9" cy="11" rx="3.00" ry="4.00" fill="#4a14f5"/><ellipse cx="9" cy="11" rx="1.32" ry="1.76" fill="#2028ff"/><ellipse cx="10" cy="14" rx="1.00" ry="1.00" fill="#4a14f5"/><ellipse cx="10" cy="14" rx="0.72" ry="0.72" fill="#2028ff"/><ellipse cx="10" cy="14" rx="0.44" ry="0.44" fill="#1ad0f5"/><ellipse cx="8" cy="6" rx="1.50" ry="1.50" fill="#4a14f5"/><ellipse cx="8" cy="6" rx="0.66" ry="0.66" fill="#2028ff"/><ellipse cx="4" cy="19" rx="2.50" ry="4.00" fill="#4a14f5"/><path d="M7.95,0.8 C9.3,0.8 10.2,1.8 10.8,3.2 C11.6,4.4 12.4,5.6 12.9,7.0 C13.5,8.5 13.8,10.5 13.9,12.5 C14.1,16 14.2,21 14.3,25 C14.4,28 14.9,30.5 15.3,33 L15.6,36.6 L12.3,36.6 L11.0,34.2 L9.5,35.6 L8.6,37.2 L7.3,37.2 L6.4,35.6 L4.9,34.2 L3.6,36.6 L0.3,36.6 L0.6,33 C1.0,30.5 1.5,28 1.6,25 C1.7,21 1.8,16 2.0,12.5 C2.1,10.5 2.4,8.5 3.0,7.0 C3.5,5.6 4.3,4.4 5.1,3.2 C5.7,1.8 6.6,0.8 7.95,0.8 Z" fill="#4a14f5" clip-path="url(#b245_375)"/><path d="M7.95,0.8 C9.3,0.8 10.2,1.8 10.8,3.2 C11.6,4.4 12.4,5.6 12.9,7.0 C13.5,8.5 13.8,10.5 13.9,12.5 C14.1,16 14.2,21 14.3,25 C14.4,28 14.9,30.5 15.3,33 L15.6,36.6 L12.3,36.6 L11.0,34.2 L9.5,35.6 L8.6,37.2 L7.3,37.2 L6.4,35.6 L4.9,34.2 L3.6,36.6 L0.3,36.6 L0.6,33 C1.0,30.5 1.5,28 1.6,25 C1.7,21 1.8,16 2.0,12.5 C2.1,10.5 2.4,8.5 3.0,7.0 C3.5,5.6 4.3,4.4 5.1,3.2 C5.7,1.8 6.6,0.8 7.95,0.8 Z" fill="#2028ff" clip-path="url(#b267_361)" transform="translate(8,31.0) scale(0.66,1) translate(-8,-31.0)"/><path d="M3.2,23.5 L12.8,23.5 L8,28.5 Z" fill="#f2ecf2"/><ellipse cx="2" cy="29" rx="2.72" ry="2.72" fill="#4a14f5"/><ellipse cx="2" cy="29" rx="2.21" ry="2.21" fill="#2028ff"/><ellipse cx="2" cy="29" rx="1.70" ry="1.70" fill="#1ad0f5"/><ellipse cx="2" cy="29" rx="1.20" ry="1.20" fill="#40f040"/><ellipse cx="14" cy="29" rx="2.72" ry="2.72" fill="#4a14f5"/><ellipse cx="14" cy="29" rx="2.21" ry="2.21" fill="#2028ff"/><ellipse cx="14" cy="29" rx="1.70" ry="1.70" fill="#1ad0f5"/><ellipse cx="14" cy="29" rx="1.20" ry="1.20" fill="#40f040"/></g></g>
<g transform="translate(247.00,127.00)" clip-path="url(#cell)"><use href="#mbody"/></g>
<g transform="translate(264.20,127.00)" clip-path="url(#cell)"><use href="#mbody"/></g>
<g transform="translate(281.40,127.00)" clip-path="url(#cell)"><use href="#mbody"/></g>
<g transform="translate(298.60,127.00)" clip-path="url(#cell)"><use href="#mbody"/></g>
<g transform="translate(315.80,127.00)" clip-path="url(#cell)"><use href="#mbody"/></g>
<g transform="translate(333.00,127.00)" clip-path="url(#cell)"><use href="#mbody"/></g>
<g transform="translate(357.00,127.00)" clip-path="url(#cell)"><use href="#mbody"/><g filter="url(#bl)"><ellipse cx="8" cy="30" rx="1.80" ry="1.80" fill="#4a14f5"/></g></g>
<g transform="translate(374.20,127.00)" clip-path="url(#cell)"><use href="#mbody"/><g filter="url(#bl)"><ellipse cx="6" cy="5" rx="1.60" ry="1.60" fill="#4a14f5"/><ellipse cx="9.5" cy="14" rx="1.20" ry="1.20" fill="#4a14f5"/></g></g>
<g transform="translate(391.40,127.00)" clip-path="url(#cell)"><use href="#mbody"/><g filter="url(#bl)"><ellipse cx="11" cy="11" rx="0.80" ry="0.80" fill="#4a14f5"/></g></g>
<g transform="translate(408.60,127.00)" clip-path="url(#cell)"><use href="#mbody"/></g>
<g transform="translate(425.80,127.00)" clip-path="url(#cell)"><use href="#mbody"/><g filter="url(#bl)"><ellipse cx="8" cy="6" rx="1.40" ry="1.40" fill="#4a14f5"/></g></g>
<g transform="translate(443.00,127.00)" clip-path="url(#cell)"><use href="#mbody"/><g filter="url(#bl)"><ellipse cx="6.5" cy="5" rx="1.80" ry="1.80" fill="#4a14f5"/></g></g>
<g transform="translate(27.20,168.90)" clip-path="url(#cell)"><use href="#mbody"/><g filter="url(#bl)"><path d="M7.95,0.8 C9.3,0.8 10.2,1.8 10.8,3.2 C11.6,4.4 12.4,5.6 12.9,7.0 C13.5,8.5 13.8,10.5 13.9,12.5 C14.1,16 14.2,21 14.3,25 C14.4,28 14.9,30.5 15.3,33 L15.6,36.6 L12.3,36.6 L11.0,34.2 L9.5,35.6 L8.6,37.2 L7.3,37.2 L6.4,35.6 L4.9,34.2 L3.6,36.6 L0.3,36.6 L0.6,33 C1.0,30.5 1.5,28 1.6,25 C1.7,21 1.8,16 2.0,12.5 C2.1,10.5 2.4,8.5 3.0,7.0 C3.5,5.6 4.3,4.4 5.1,3.2 C5.7,1.8 6.6,0.8 7.95,0.8 Z" fill="#4a14f5"/><path d="M7.95,0.8 C9.3,0.8 10.2,1.8 10.8,3.2 C11.6,4.4 12.4,5.6 12.9,7.0 C13.5,8.5 13.8,10.5 13.9,12.5 C14.1,16 14.2,21 14.3,25 C14.4,28 14.9,30.5 15.3,33 L15.6,36.6 L12.3,36.6 L11.0,34.2 L9.5,35.6 L8.6,37.2 L7.3,37.2 L6.4,35.6 L4.9,34.2 L3.6,36.6 L0.3,36.6 L0.6,33 C1.0,30.5 1.5,28 1.6,25 C1.7,21 1.8,16 2.0,12.5 C2.1,10.5 2.4,8.5 3.0,7.0 C3.5,5.6 4.3,4.4 5.1,3.2 C5.7,1.8 6.6,0.8 7.95,0.8 Z" fill="#2028ff" transform="translate(8,19) scale(0.82,0.92) translate(-8,-19)"/><ellipse cx="4" cy="9" rx="1.50" ry="1.50" fill="#1ad0f5"/><ellipse cx="8" cy="8" rx="1.20" ry="1.20" fill="#1ad0f5"/><ellipse cx="11.5" cy="10" rx="1.20" ry="1.50" fill="#1ad0f5"/><ellipse cx="7" cy="13.5" rx="3.00" ry="1.50" fill="#1ad0f5"/><ellipse cx="6" cy="18" rx="3.50" ry="3.00" fill="#1ad0f5"/><ellipse cx="6" cy="18" rx="1.54" ry="1.32" fill="#40f040"/><ellipse cx="9.5" cy="19" rx="3.00" ry="2.50" fill="#1ad0f5"/><ellipse cx="9.5" cy="19" rx="2.44" ry="2.03" fill="#40f040"/><ellipse cx="9.5" cy="19" rx="1.88" ry="1.57" fill="#f0e818"/><ellipse cx="9.5" cy="19" rx="1.32" ry="1.10" fill="#f82010"/><ellipse cx="8" cy="24.5" rx="3" ry="1.4" fill="#f2ecf2"/><ellipse cx="1.8" cy="28" rx="2.20" ry="2.20" fill="#1ad0f5"/><ellipse cx="1.8" cy="28" rx="1.79" ry="1.79" fill="#40f040"/><ellipse cx="1.8" cy="28" rx="1.38" ry="1.38" fill="#f0e818"/><ellipse cx="1.8" cy="28" rx="0.97" ry="0.97" fill="#f82010"/><ellipse cx="14" cy="28" rx="2.20" ry="2.20" fill="#1ad0f5"/><ellipse cx="14" cy="28" rx="1.79" ry="1.79" fill="#40f040"/><ellipse cx="14" cy="28" rx="1.38" ry="1.38" fill="#f0e818"/><ellipse cx="14" cy="28" rx="0.97" ry="0.97" fill="#f82010"/><ellipse cx="4.5" cy="27" rx="1.20" ry="1.20" fill="#1ad0f5"/><ellipse cx="11.5" cy="27" rx="1.20" ry="1.20" fill="#1ad0f5"/><ellipse cx="6" cy="32" rx="1.30" ry="1.30" fill="#1ad0f5"/><ellipse cx="10" cy="33" rx="1.30" ry="1.30" fill="#1ad0f5"/></g></g>
<g transform="translate(44.40,168.90)" clip-path="url(#cell)"><use href="#mbody"/><g filter="url(#bl)"><path d="M7.95,0.8 C9.3,0.8 10.2,1.8 10.8,3.2 C11.6,4.4 12.4,5.6 12.9,7.0 C13.5,8.5 13.8,10.5 13.9,12.5 C14.1,16 14.2,21 14.3,25 C14.4,28 14.9,30.5 15.3,33 L15.6,36.6 L12.3,36.6 L11.0,34.2 L9.5,35.6 L8.6,37.2 L7.3,37.2 L6.4,35.6 L4.9,34.2 L3.6,36.6 L0.3,36.6 L0.6,33 C1.0,30.5 1.5,28 1.6,25 C1.7,21 1.8,16 2.0,12.5 C2.1,10.5 2.4,8.5 3.0,7.0 C3.5,5.6 4.3,4.4 5.1,3.2 C5.7,1.8 6.6,0.8 7.95,0.8 Z" fill="#4a14f5"/><path d="M7.95,0.8 C9.3,0.8 10.2,1.8 10.8,3.2 C11.6,4.4 12.4,5.6 12.9,7.0 C13.5,8.5 13.8,10.5 13.9,12.5 C14.1,16 14.2,21 14.3,25 C14.4,28 14.9,30.5 15.3,33 L15.6,36.6 L12.3,36.6 L11.0,34.2 L9.5,35.6 L8.6,37.2 L7.3,37.2 L6.4,35.6 L4.9,34.2 L3.6,36.6 L0.3,36.6 L0.6,33 C1.0,30.5 1.5,28 1.6,25 C1.7,21 1.8,16 2.0,12.5 C2.1,10.5 2.4,8.5 3.0,7.0 C3.5,5.6 4.3,4.4 5.1,3.2 C5.7,1.8 6.6,0.8 7.95,0.8 Z" fill="#2028ff" transform="translate(8,19) scale(0.82,0.92) translate(-8,-19)"/><ellipse cx="8" cy="6" rx="1.80" ry="1.50" fill="#1ad0f5"/><ellipse cx="8" cy="6" rx="0.79" ry="0.66" fill="#40f040"/><ellipse cx="5" cy="10" rx="1.20" ry="1.20" fill="#1ad0f5"/><ellipse cx="10.5" cy="11" rx="1.20" ry="1.20" fill="#1ad0f5"/><ellipse cx="8" cy="14" rx="3.00" ry="1.50" fill="#1ad0f5"/><ellipse cx="8" cy="18.5" rx="4.50" ry="3.00" fill="#1ad0f5"/><ellipse cx="8" cy="18.5" rx="3.66" ry="2.44" fill="#40f040"/><ellipse cx="8" cy="18.5" rx="2.82" ry="1.88" fill="#f0e818"/><ellipse cx="8" cy="18.5" rx="1.98" ry="1.32" fill="#f82010"/><ellipse cx="4.5" cy="23.5" rx="2" ry="3.2" fill="#f2ecf2"/><ellipse cx="12" cy="24.5" rx="1.80" ry="1.80" fill="#1ad0f5"/><ellipse cx="12" cy="24.5" rx="1.30" ry="1.30" fill="#40f040"/><ellipse cx="12" cy="24.5" rx="0.79" ry="0.79" fill="#f0e818"/><ellipse cx="3" cy="32" rx="1.50" ry="1.50" fill="#1ad0f5"/><ellipse cx="3" cy="32" rx="0.66" ry="0.66" fill="#40f040"/><ellipse cx="12.5" cy="31" rx="2.00" ry="2.00" fill="#1ad0f5"/><ellipse cx="12.5" cy="31" rx="0.88" ry="0.88" fill="#40f040"/><ellipse cx="8" cy="34" rx="1.30" ry="1.30" fill="#1ad0f5"/></g></g>
<g transform="translate(113.20,168.90)" clip-path="url(#cell)"><use href="#mbody"/><g filter="url(#bl)"><path d="M7.95,0.8 C9.3,0.8 10.2,1.8 10.8,3.2 C11.6,4.4 12.4,5.6 12.9,7.0 C13.5,8.5 13.8,10.5 13.9,12.5 C14.1,16 14.2,21 14.3,25 C14.4,28 14.9,30.5 15.3,33 L15.6,36.6 L12.3,36.6 L11.0,34.2 L9.5,35.6 L8.6,37.2 L7.3,37.2 L6.4,35.6 L4.9,34.2 L3.6,36.6 L0.3,36.6 L0.6,33 C1.0,30.5 1.5,28 1.6,25 C1.7,21 1.8,16 2.0,12.5 C2.1,10.5 2.4,8.5 3.0,7.0 C3.5,5.6 4.3,4.4 5.1,3.2 C5.7,1.8 6.6,0.8 7.95,0.8 Z" fill="#4a14f5"/><path d="M7.95,0.8 C9.3,0.8 10.2,1.8 10.8,3.2 C11.6,4.4 12.4,5.6 12.9,7.0 C13.5,8.5 13.8,10.5 13.9,12.5 C14.1,16 14.2,21 14.3,25 C14.4,28 14.9,30.5 15.3,33 L15.6,36.6 L12.3,36.6 L11.0,34.2 L9.5,35.6 L8.6,37.2 L7.3,37.2 L6.4,35.6 L4.9,34.2 L3.6,36.6 L0.3,36.6 L0.6,33 C1.0,30.5 1.5,28 1.6,25 C1.7,21 1.8,16 2.0,12.5 C2.1,10.5 2.4,8.5 3.0,7.0 C3.5,5.6 4.3,4.4 5.1,3.2 C5.7,1.8 6.6,0.8 7.95,0.8 Z" fill="#2028ff" transform="translate(8,19) scale(0.82,0.92) translate(-8,-19)"/><ellipse cx="8" cy="15" rx="2.50" ry="4.00" fill="#1ad0f5"/><ellipse cx="8" cy="15" rx="1.10" ry="1.76" fill="#40f040"/><ellipse cx="6" cy="11" rx="1.20" ry="1.20" fill="#1ad0f5"/><ellipse cx="10" cy="12" rx="1.20" ry="1.20" fill="#1ad0f5"/><ellipse cx="8" cy="26.5" rx="3.5" ry="1.4" fill="#f2ecf2"/><ellipse cx="1.5" cy="29.5" rx="1.80" ry="1.80" fill="#1ad0f5"/><ellipse cx="1.5" cy="29.5" rx="1.46" ry="1.46" fill="#40f040"/><ellipse cx="1.5" cy="29.5" rx="1.13" ry="1.13" fill="#f0e818"/><ellipse cx="1.5" cy="29.5" rx="0.79" ry="0.79" fill="#f82010"/><ellipse cx="14.5" cy="29.5" rx="1.80" ry="1.80" fill="#1ad0f5"/><ellipse cx="14.5" cy="29.5" rx="1.46" ry="1.46" fill="#40f040"/><ellipse cx="14.5" cy="29.5" rx="1.13" ry="1.13" fill="#f0e818"/><ellipse cx="14.5" cy="29.5" rx="0.79" ry="0.79" fill="#f82010"/><ellipse cx="12" cy="29" rx="1.50" ry="1.50" fill="#1ad0f5"/><ellipse cx="6" cy="33" rx="1.20" ry="1.20" fill="#1ad0f5"/><ellipse cx="10" cy="34" rx="1.20" ry="1.20" fill="#1ad0f5"/></g></g>
<g transform="translate(136.90,168.90)" clip-path="url(#cell)"><use href="#mbody"/><g filter="url(#bl)"><path d="M7.95,0.8 C9.3,0.8 10.2,1.8 10.8,3.2 C11.6,4.4 12.4,5.6 12.9,7.0 C13.5,8.5 13.8,10.5 13.9,12.5 C14.1,16 14.2,21 14.3,25 C14.4,28 14.9,30.5 15.3,33 L15.6,36.6 L12.3,36.6 L11.0,34.2 L9.5,35.6 L8.6,37.2 L7.3,37.2 L6.4,35.6 L4.9,34.2 L3.6,36.6 L0.3,36.6 L0.6,33 C1.0,30.5 1.5,28 1.6,25 C1.7,21 1.8,16 2.0,12.5 C2.1,10.5 2.4,8.5 3.0,7.0 C3.5,5.6 4.3,4.4 5.1,3.2 C5.7,1.8 6.6,0.8 7.95,0.8 Z" fill="#4a14f5"/><path d="M7.95,0.8 C9.3,0.8 10.2,1.8 10.8,3.2 C11.6,4.4 12.4,5.6 12.9,7.0 C13.5,8.5 13.8,10.5 13.9,12.5 C14.1,16 14.2,21 14.3,25 C14.4,28 14.9,30.5 15.3,33 L15.6,36.6 L12.3,36.6 L11.0,34.2 L9.5,35.6 L8.6,37.2 L7.3,37.2 L6.4,35.6 L4.9,34.2 L3.6,36.6 L0.3,36.6 L0.6,33 C1.0,30.5 1.5,28 1.6,25 C1.7,21 1.8,16 2.0,12.5 C2.1,10.5 2.4,8.5 3.0,7.0 C3.5,5.6 4.3,4.4 5.1,3.2 C5.7,1.8 6.6,0.8 7.95,0.8 Z" fill="#2028ff" transform="translate(8,19) scale(0.82,0.92) translate(-8,-19)"/><ellipse cx="8" cy="8" rx="2.00" ry="1.50" fill="#1ad0f5"/><ellipse cx="6" cy="13" rx="1.50" ry="1.50" fill="#1ad0f5"/><ellipse cx="7" cy="17" rx="3.00" ry="2.50" fill="#1ad0f5"/><ellipse cx="7" cy="17" rx="1.32" ry="1.10" fill="#40f040"/><ellipse cx="9.5" cy="19.5" rx="1.30" ry="1.30" fill="#1ad0f5"/><ellipse cx="9.5" cy="19.5" rx="1.06" ry="1.06" fill="#40f040"/><ellipse cx="9.5" cy="19.5" rx="0.81" ry="0.81" fill="#f0e818"/><ellipse cx="9.5" cy="19.5" rx="0.57" ry="0.57" fill="#f82010"/><ellipse cx="8" cy="25.5" rx="3.5" ry="1.4" fill="#f2ecf2"/><ellipse cx="1.5" cy="29" rx="1.70" ry="1.70" fill="#1ad0f5"/><ellipse cx="1.5" cy="29" rx="1.38" ry="1.38" fill="#40f040"/><ellipse cx="1.5" cy="29" rx="1.07" ry="1.07" fill="#f0e818"/><ellipse cx="1.5" cy="29" rx="0.75" ry="0.75" fill="#f82010"/><ellipse cx="14.5" cy="29" rx="1.70" ry="1.70" fill="#1ad0f5"/><ellipse cx="14.5" cy="29" rx="1.38" ry="1.38" fill="#40f040"/><ellipse cx="14.5" cy="29" rx="1.07" ry="1.07" fill="#f0e818"/><ellipse cx="14.5" cy="29" rx="0.75" ry="0.75" fill="#f82010"/><ellipse cx="4.5" cy="31" rx="1.30" ry="1.30" fill="#1ad0f5"/><ellipse cx="11" cy="32" rx="1.30" ry="1.30" fill="#1ad0f5"/></g></g>
<g transform="translate(171.30,168.90)" clip-path="url(#cell)"><use href="#mbody"/><g filter="url(#bl)"><path d="M7.95,0.8 C9.3,0.8 10.2,1.8 10.8,3.2 C11.6,4.4 12.4,5.6 12.9,7.0 C13.5,8.5 13.8,10.5 13.9,12.5 C14.1,16 14.2,21 14.3,25 C14.4,28 14.9,30.5 15.3,33 L15.6,36.6 L12.3,36.6 L11.0,34.2 L9.5,35.6 L8.6,37.2 L7.3,37.2 L6.4,35.6 L4.9,34.2 L3.6,36.6 L0.3,36.6 L0.6,33 C1.0,30.5 1.5,28 1.6,25 C1.7,21 1.8,16 2.0,12.5 C2.1,10.5 2.4,8.5 3.0,7.0 C3.5,5.6 4.3,4.4 5.1,3.2 C5.7,1.8 6.6,0.8 7.95,0.8 Z" fill="#4a14f5"/><path d="M7.95,0.8 C9.3,0.8 10.2,1.8 10.8,3.2 C11.6,4.4 12.4,5.6 12.9,7.0 C13.5,8.5 13.8,10.5 13.9,12.5 C14.1,16 14.2,21 14.3,25 C14.4,28 14.9,30.5 15.3,33 L15.6,36.6 L12.3,36.6 L11.0,34.2 L9.5,35.6 L8.6,37.2 L7.3,37.2 L6.4,35.6 L4.9,34.2 L3.6,36.6 L0.3,36.6 L0.6,33 C1.0,30.5 1.5,28 1.6,25 C1.7,21 1.8,16 2.0,12.5 C2.1,10.5 2.4,8.5 3.0,7.0 C3.5,5.6 4.3,4.4 5.1,3.2 C5.7,1.8 6.6,0.8 7.95,0.8 Z" fill="#2028ff" transform="translate(8,19) scale(0.82,0.92) translate(-8,-19)"/><path d="M7.95,0.8 C9.3,0.8 10.2,1.8 10.8,3.2 C11.6,4.4 12.4,5.6 12.9,7.0 C13.5,8.5 13.8,10.5 13.9,12.5 C14.1,16 14.2,21 14.3,25 C14.4,28 14.9,30.5 15.3,33 L15.6,36.6 L12.3,36.6 L11.0,34.2 L9.5,35.6 L8.6,37.2 L7.3,37.2 L6.4,35.6 L4.9,34.2 L3.6,36.6 L0.3,36.6 L0.6,33 C1.0,30.5 1.5,28 1.6,25 C1.7,21 1.8,16 2.0,12.5 C2.1,10.5 2.4,8.5 3.0,7.0 C3.5,5.6 4.3,4.4 5.1,3.2 C5.7,1.8 6.6,0.8 7.95,0.8 Z" fill="#1ad0f5" opacity="0.85" transform="translate(8,18) scale(0.55,0.72) translate(-8,-18)"/><ellipse cx="8" cy="6" rx="3.00" ry="2.50" fill="#1ad0f5"/><ellipse cx="8" cy="6" rx="1.32" ry="1.10" fill="#40f040"/><ellipse cx="8" cy="12" rx="5.50" ry="3.00" fill="#1ad0f5"/><ellipse cx="8" cy="12" rx="2.42" ry="1.32" fill="#40f040"/><ellipse cx="8" cy="17" rx="5.50" ry="2.50" fill="#1ad0f5"/><ellipse cx="8" cy="17" rx="3.96" ry="1.80" fill="#40f040"/><ellipse cx="8" cy="17" rx="2.42" ry="1.10" fill="#f0e818"/><ellipse cx="8" cy="17" rx="4.50" ry="1.60" fill="#1ad0f5"/><ellipse cx="8" cy="17" rx="3.66" ry="1.30" fill="#40f040"/><ellipse cx="8" cy="17" rx="2.82" ry="1.00" fill="#f0e818"/><ellipse cx="8" cy="17" rx="1.98" ry="0.70" fill="#f82010"/><ellipse cx="8" cy="24" rx="2" ry="1.2" fill="#f2ecf2"/><ellipse cx="2" cy="26" rx="1.70" ry="1.70" fill="#1ad0f5"/><ellipse cx="2" cy="26" rx="1.38" ry="1.38" fill="#40f040"/><ellipse cx="2" cy="26" rx="1.07" ry="1.07" fill="#f0e818"/><ellipse cx="2" cy="26" rx="0.75" ry="0.75" fill="#f82010"/><ellipse cx="14" cy="26" rx="1.70" ry="1.70" fill="#1ad0f5"/><ellipse cx="14" cy="26" rx="1.38" ry="1.38" fill="#40f040"/><ellipse cx="14" cy="26" rx="1.07" ry="1.07" fill="#f0e818"/><ellipse cx="14" cy="26" rx="0.75" ry="0.75" fill="#f82010"/><ellipse cx="6" cy="30" rx="2.50" ry="2.50" fill="#1ad0f5"/><ellipse cx="6" cy="30" rx="1.10" ry="1.10" fill="#40f040"/><ellipse cx="11" cy="30" rx="2.50" ry="2.50" fill="#1ad0f5"/><ellipse cx="11" cy="30" rx="1.10" ry="1.10" fill="#40f040"/><ellipse cx="8" cy="34" rx="2.00" ry="1.50" fill="#1ad0f5"/></g></g>
<g transform="translate(205.70,168.90)" clip-path="url(#cell)"><use href="#mbody"/><g filter="url(#bl)"><path d="M7.95,0.8 C9.3,0.8 10.2,1.8 10.8,3.2 C11.6,4.4 12.4,5.6 12.9,7.0 C13.5,8.5 13.8,10.5 13.9,12.5 C14.1,16 14.2,21 14.3,25 C14.4,28 14.9,30.5 15.3,33 L15.6,36.6 L12.3,36.6 L11.0,34.2 L9.5,35.6 L8.6,37.2 L7.3,37.2 L6.4,35.6 L4.9,34.2 L3.6,36.6 L0.3,36.6 L0.6,33 C1.0,30.5 1.5,28 1.6,25 C1.7,21 1.8,16 2.0,12.5 C2.1,10.5 2.4,8.5 3.0,7.0 C3.5,5.6 4.3,4.4 5.1,3.2 C5.7,1.8 6.6,0.8 7.95,0.8 Z" fill="#4a14f5"/><path d="M7.95,0.8 C9.3,0.8 10.2,1.8 10.8,3.2 C11.6,4.4 12.4,5.6 12.9,7.0 C13.5,8.5 13.8,10.5 13.9,12.5 C14.1,16 14.2,21 14.3,25 C14.4,28 14.9,30.5 15.3,33 L15.6,36.6 L12.3,36.6 L11.0,34.2 L9.5,35.6 L8.6,37.2 L7.3,37.2 L6.4,35.6 L4.9,34.2 L3.6,36.6 L0.3,36.6 L0.6,33 C1.0,30.5 1.5,28 1.6,25 C1.7,21 1.8,16 2.0,12.5 C2.1,10.5 2.4,8.5 3.0,7.0 C3.5,5.6 4.3,4.4 5.1,3.2 C5.7,1.8 6.6,0.8 7.95,0.8 Z" fill="#2028ff" transform="translate(8,19) scale(0.82,0.92) translate(-8,-19)"/><ellipse cx="8" cy="1.8" rx="1.50" ry="1.00" fill="#1ad0f5"/><ellipse cx="8" cy="1.8" rx="0.66" ry="0.44" fill="#40f040"/><ellipse cx="6" cy="10" rx="1.00" ry="1.00" fill="#1ad0f5"/><ellipse cx="9" cy="14" rx="1.20" ry="1.20" fill="#1ad0f5"/><ellipse cx="7" cy="18" rx="1.20" ry="1.20" fill="#1ad0f5"/><ellipse cx="5" cy="21.5" rx="2" ry="2.5" fill="#f2ecf2"/><ellipse cx="14.5" cy="27" rx="1.60" ry="1.60" fill="#1ad0f5"/><ellipse cx="14.5" cy="27" rx="1.30" ry="1.30" fill="#40f040"/><ellipse cx="14.5" cy="27" rx="1.00" ry="1.00" fill="#f0e818"/><ellipse cx="14.5" cy="27" rx="0.70" ry="0.70" fill="#f82010"/><ellipse cx="11" cy="29" rx="1.50" ry="1.50" fill="#1ad0f5"/><ellipse cx="11" cy="29" rx="0.66" ry="0.66" fill="#40f040"/><ellipse cx="4" cy="31" rx="1.20" ry="1.20" fill="#1ad0f5"/><ellipse cx="8" cy="33" rx="1.20" ry="1.20" fill="#1ad0f5"/></g></g>
<g transform="translate(247.00,168.90)" clip-path="url(#cell)"><use href="#mbody"/><g filter="url(#bl)"><ellipse cx="8" cy="16" rx="5.20" ry="3.20" fill="#4a14f5"/><ellipse cx="8" cy="16" rx="4.40" ry="2.60" fill="#4a14f5"/></g></g>
<g transform="translate(264.20,168.90)" clip-path="url(#cell)"><use href="#mbody"/><g filter="url(#bl)"><ellipse cx="6" cy="5.5" rx="1.30" ry="1.30" fill="#4a14f5"/><ellipse cx="8" cy="17.5" rx="1.50" ry="1.50" fill="#4a14f5"/></g></g>
<g transform="translate(281.40,168.90)" clip-path="url(#cell)"><use href="#mbody"/><g filter="url(#bl)"><ellipse cx="9" cy="8" rx="2.20" ry="2.00" fill="#4a14f5"/><ellipse cx="10" cy="11" rx="1.30" ry="1.50" fill="#4a14f5"/><ellipse cx="2" cy="26.5" rx="2.20" ry="2.20" fill="#4a14f5"/><ellipse cx="14" cy="27" rx="1.80" ry="2.40" fill="#4a14f5"/></g></g>
<g transform="translate(298.60,168.90)" clip-path="url(#cell)"><use href="#mbody"/><g filter="url(#bl)"><ellipse cx="8" cy="2.5" rx="2.00" ry="1.00" fill="#4a14f5"/><ellipse cx="1.3" cy="27" rx="1.10" ry="1.60" fill="#4a14f5"/><ellipse cx="14.7" cy="27" rx="1.10" ry="1.60" fill="#4a14f5"/></g></g>
<g transform="translate(315.80,168.90)" clip-path="url(#cell)"><use href="#mbody"/><g filter="url(#bl)"><ellipse cx="5" cy="10" rx="1.00" ry="2.50" fill="#4a14f5"/><ellipse cx="8" cy="13" rx="1.00" ry="2.50" fill="#4a14f5"/><ellipse cx="10.5" cy="14" rx="1.20" ry="2.00" fill="#4a14f5"/><ellipse cx="2" cy="29.5" rx="1.60" ry="1.60" fill="#4a14f5"/><ellipse cx="12.5" cy="29" rx="2.00" ry="2.00" fill="#4a14f5"/></g></g>
<g transform="translate(333.00,168.90)" clip-path="url(#cell)"><use href="#mbody"/><g filter="url(#bl)"><ellipse cx="7" cy="12.5" rx="2.60" ry="2.60" fill="#4a14f5"/><ellipse cx="10.5" cy="9" rx="1.30" ry="1.30" fill="#4a14f5"/><ellipse cx="9" cy="17" rx="1.00" ry="1.50" fill="#4a14f5"/><ellipse cx="7" cy="21" rx="1.00" ry="1.50" fill="#4a14f5"/><ellipse cx="2" cy="30" rx="1.80" ry="1.80" fill="#4a14f5"/><ellipse cx="13.5" cy="30" rx="2.00" ry="2.00" fill="#4a14f5"/></g></g>
<g transform="translate(357.00,168.90)" clip-path="url(#cell)"><use href="#mbody"/><g filter="url(#bl)"><ellipse cx="8" cy="8" rx="4.80" ry="6.80" fill="#4a14f5"/><ellipse cx="4.8" cy="15.5" rx="2.20" ry="3.00" fill="#4a14f5"/><ellipse cx="8.5" cy="19.5" rx="1.80" ry="1.80" fill="#4a14f5"/><path d="M7.95,0.8 C9.3,0.8 10.2,1.8 10.8,3.2 C11.6,4.4 12.4,5.6 12.9,7.0 C13.5,8.5 13.8,10.5 13.9,12.5 C14.1,16 14.2,21 14.3,25 C14.4,28 14.9,30.5 15.3,33 L15.6,36.6 L12.3,36.6 L11.0,34.2 L9.5,35.6 L8.6,37.2 L7.3,37.2 L6.4,35.6 L4.9,34.2 L3.6,36.6 L0.3,36.6 L0.6,33 C1.0,30.5 1.5,28 1.6,25 C1.7,21 1.8,16 2.0,12.5 C2.1,10.5 2.4,8.5 3.0,7.0 C3.5,5.6 4.3,4.4 5.1,3.2 C5.7,1.8 6.6,0.8 7.95,0.8 Z" fill="#4a14f5" clip-path="url(#b275_368)"/><ellipse cx="8" cy="28" rx="3" ry="1.5" fill="#f2ecf2"/></g></g>
<g transform="translate(374.20,168.90)" clip-path="url(#cell)"><use href="#mbody"/><g filter="url(#bl)"><ellipse cx="6.5" cy="4" rx="2.00" ry="2.00" fill="#4a14f5"/><ellipse cx="6.5" cy="4" rx="0.88" ry="0.88" fill="#2028ff"/><ellipse cx="5" cy="11" rx="2.80" ry="3.20" fill="#4a14f5"/><ellipse cx="10" cy="13" rx="2.60" ry="4.00" fill="#4a14f5"/><ellipse cx="11" cy="19" rx="1.60" ry="2.00" fill="#4a14f5"/><ellipse cx="13.5" cy="29" rx="2.60" ry="3.00" fill="#4a14f5"/><ellipse cx="13.5" cy="29" rx="1.14" ry="1.32" fill="#2028ff"/><ellipse cx="1.8" cy="31.5" rx="1.50" ry="2.50" fill="#4a14f5"/></g></g>
<g transform="translate(391.40,168.90)" clip-path="url(#cell)"><use href="#mbody"/><g filter="url(#bl)"><ellipse cx="8" cy="11" rx="5.80" ry="8.50" fill="#4a14f5"/><ellipse cx="8" cy="11" rx="3.50" ry="5.50" fill="#4a14f5"/><ellipse cx="8" cy="11" rx="1.54" ry="2.42" fill="#2028ff"/><ellipse cx="8" cy="4.5" rx="1.60" ry="1.60" fill="#4a14f5"/><ellipse cx="8" cy="4.5" rx="1.15" ry="1.15" fill="#2028ff"/><ellipse cx="8" cy="4.5" rx="0.70" ry="0.70" fill="#1ad0f5"/><ellipse cx="4" cy="28.5" rx="2.80" ry="3.00" fill="#4a14f5"/><ellipse cx="4" cy="28.5" rx="1.23" ry="1.32" fill="#2028ff"/><ellipse cx="13" cy="28.5" rx="2.40" ry="3.00" fill="#4a14f5"/><ellipse cx="13" cy="28.5" rx="1.06" ry="1.32" fill="#2028ff"/></g></g>
<g transform="translate(408.60,168.90)" clip-path="url(#cell)"><use href="#mbody"/><g filter="url(#bl)"><ellipse cx="9" cy="9" rx="4.80" ry="7.50" fill="#4a14f5"/><ellipse cx="9" cy="9" rx="2.50" ry="4.00" fill="#4a14f5"/><ellipse cx="9" cy="9" rx="1.10" ry="1.76" fill="#2028ff"/><ellipse cx="4" cy="16.5" rx="2.20" ry="3.20" fill="#4a14f5"/><ellipse cx="9" cy="20.5" rx="2.00" ry="2.00" fill="#4a14f5"/><ellipse cx="3" cy="29.5" rx="2.60" ry="2.60" fill="#4a14f5"/><ellipse cx="3" cy="29.5" rx="1.14" ry="1.14" fill="#2028ff"/><ellipse cx="12.5" cy="30" rx="2.60" ry="2.60" fill="#4a14f5"/></g></g>
<g transform="translate(425.80,168.90)" clip-path="url(#cell)"><use href="#mbody"/><g filter="url(#bl)"><ellipse cx="9" cy="7.5" rx="4.80" ry="5.50" fill="#4a14f5"/><ellipse cx="4" cy="13.5" rx="2.60" ry="3.50" fill="#4a14f5"/><ellipse cx="10.5" cy="15" rx="3.00" ry="3.20" fill="#4a14f5"/><ellipse cx="2" cy="28" rx="2.00" ry="3.00" fill="#4a14f5"/><ellipse cx="13" cy="30" rx="2.60" ry="3.00" fill="#4a14f5"/><ellipse cx="13" cy="30" rx="1.14" ry="1.32" fill="#2028ff"/><path d="M7.95,0.8 C9.3,0.8 10.2,1.8 10.8,3.2 C11.6,4.4 12.4,5.6 12.9,7.0 C13.5,8.5 13.8,10.5 13.9,12.5 C14.1,16 14.2,21 14.3,25 C14.4,28 14.9,30.5 15.3,33 L15.6,36.6 L12.3,36.6 L11.0,34.2 L9.5,35.6 L8.6,37.2 L7.3,37.2 L6.4,35.6 L4.9,34.2 L3.6,36.6 L0.3,36.6 L0.6,33 C1.0,30.5 1.5,28 1.6,25 C1.7,21 1.8,16 2.0,12.5 C2.1,10.5 2.4,8.5 3.0,7.0 C3.5,5.6 4.3,4.4 5.1,3.2 C5.7,1.8 6.6,0.8 7.95,0.8 Z" fill="#4a14f5" clip-path="url(#b320_368)"/></g></g>
<g transform="translate(443.00,168.90)" clip-path="url(#cell)"><use href="#mbody"/><g filter="url(#bl)"><path d="M7.95,0.8 C9.3,0.8 10.2,1.8 10.8,3.2 C11.6,4.4 12.4,5.6 12.9,7.0 C13.5,8.5 13.8,10.5 13.9,12.5 C14.1,16 14.2,21 14.3,25 C14.4,28 14.9,30.5 15.3,33 L15.6,36.6 L12.3,36.6 L11.0,34.2 L9.5,35.6 L8.6,37.2 L7.3,37.2 L6.4,35.6 L4.9,34.2 L3.6,36.6 L0.3,36.6 L0.6,33 C1.0,30.5 1.5,28 1.6,25 C1.7,21 1.8,16 2.0,12.5 C2.1,10.5 2.4,8.5 3.0,7.0 C3.5,5.6 4.3,4.4 5.1,3.2 C5.7,1.8 6.6,0.8 7.95,0.8 Z" fill="#4a14f5"/><path d="M7.95,0.8 C9.3,0.8 10.2,1.8 10.8,3.2 C11.6,4.4 12.4,5.6 12.9,7.0 C13.5,8.5 13.8,10.5 13.9,12.5 C14.1,16 14.2,21 14.3,25 C14.4,28 14.9,30.5 15.3,33 L15.6,36.6 L12.3,36.6 L11.0,34.2 L9.5,35.6 L8.6,37.2 L7.3,37.2 L6.4,35.6 L4.9,34.2 L3.6,36.6 L0.3,36.6 L0.6,33 C1.0,30.5 1.5,28 1.6,25 C1.7,21 1.8,16 2.0,12.5 C2.1,10.5 2.4,8.5 3.0,7.0 C3.5,5.6 4.3,4.4 5.1,3.2 C5.7,1.8 6.6,0.8 7.95,0.8 Z" fill="#2028ff" transform="translate(8,19) scale(0.82,0.92) translate(-8,-19)"/><ellipse cx="8.5" cy="10" rx="1.20" ry="1.20" fill="#1ad0f5"/><ellipse cx="11" cy="8" rx="1.00" ry="1.00" fill="#1ad0f5"/><ellipse cx="8.5" cy="14" rx="0.80" ry="3.50" fill="#1ad0f5"/><ellipse cx="6" cy="12" rx="1.00" ry="1.00" fill="#1ad0f5"/><path d="M3.5,22.5 L12.5,22.5 L8,27.5 Z" fill="#f2ecf2"/><ellipse cx="1.8" cy="29" rx="1.70" ry="1.70" fill="#1ad0f5"/><ellipse cx="1.8" cy="29" rx="0.75" ry="0.75" fill="#40f040"/><ellipse cx="14.2" cy="29" rx="1.70" ry="1.70" fill="#1ad0f5"/><ellipse cx="14.2" cy="29" rx="0.75" ry="0.75" fill="#40f040"/></g></g>
<g transform="translate(247.00,211.10)" clip-path="url(#cell)"><use href="#mbody"/><g filter="url(#bl)"><path d="M7.95,0.8 C9.3,0.8 10.2,1.8 10.8,3.2 C11.6,4.4 12.4,5.6 12.9,7.0 C13.5,8.5 13.8,10.5 13.9,12.5 C14.1,16 14.2,21 14.3,25 C14.4,28 14.9,30.5 15.3,33 L15.6,36.6 L12.3,36.6 L11.0,34.2 L9.5,35.6 L8.6,37.2 L7.3,37.2 L6.4,35.6 L4.9,34.2 L3.6,36.6 L0.3,36.6 L0.6,33 C1.0,30.5 1.5,28 1.6,25 C1.7,21 1.8,16 2.0,12.5 C2.1,10.5 2.4,8.5 3.0,7.0 C3.5,5.6 4.3,4.4 5.1,3.2 C5.7,1.8 6.6,0.8 7.95,0.8 Z" fill="#4a14f5" clip-path="url(#b30_210)"/><path d="M7.95,0.8 C9.3,0.8 10.2,1.8 10.8,3.2 C11.6,4.4 12.4,5.6 12.9,7.0 C13.5,8.5 13.8,10.5 13.9,12.5 C14.1,16 14.2,21 14.3,25 C14.4,28 14.9,30.5 15.3,33 L15.6,36.6 L12.3,36.6 L11.0,34.2 L9.5,35.6 L8.6,37.2 L7.3,37.2 L6.4,35.6 L4.9,34.2 L3.6,36.6 L0.3,36.6 L0.6,33 C1.0,30.5 1.5,28 1.6,25 C1.7,21 1.8,16 2.0,12.5 C2.1,10.5 2.4,8.5 3.0,7.0 C3.5,5.6 4.3,4.4 5.1,3.2 C5.7,1.8 6.6,0.8 7.95,0.8 Z" fill="#2028ff" clip-path="url(#b52_196)" transform="translate(8,12.0) scale(0.66,1) translate(-8,-12.0)"/><path d="M7.95,0.8 C9.3,0.8 10.2,1.8 10.8,3.2 C11.6,4.4 12.4,5.6 12.9,7.0 C13.5,8.5 13.8,10.5 13.9,12.5 C14.1,16 14.2,21 14.3,25 C14.4,28 14.9,30.5 15.3,33 L15.6,36.6 L12.3,36.6 L11.0,34.2 L9.5,35.6 L8.6,37.2 L7.3,37.2 L6.4,35.6 L4.9,34.2 L3.6,36.6 L0.3,36.6 L0.6,33 C1.0,30.5 1.5,28 1.6,25 C1.7,21 1.8,16 2.0,12.5 C2.1,10.5 2.4,8.5 3.0,7.0 C3.5,5.6 4.3,4.4 5.1,3.2 C5.7,1.8 6.6,0.8 7.95,0.8 Z" fill="#4a14f5" clip-path="url(#b210_375)"/><path d="M7.95,0.8 C9.3,0.8 10.2,1.8 10.8,3.2 C11.6,4.4 12.4,5.6 12.9,7.0 C13.5,8.5 13.8,10.5 13.9,12.5 C14.1,16 14.2,21 14.3,25 C14.4,28 14.9,30.5 15.3,33 L15.6,36.6 L12.3,36.6 L11.0,34.2 L9.5,35.6 L8.6,37.2 L7.3,37.2 L6.4,35.6 L4.9,34.2 L3.6,36.6 L0.3,36.6 L0.6,33 C1.0,30.5 1.5,28 1.6,25 C1.7,21 1.8,16 2.0,12.5 C2.1,10.5 2.4,8.5 3.0,7.0 C3.5,5.6 4.3,4.4 5.1,3.2 C5.7,1.8 6.6,0.8 7.95,0.8 Z" fill="#2028ff" clip-path="url(#b232_361)" transform="translate(8,29.2) scale(0.66,1) translate(-8,-29.2)"/><path d="M2.2,19.5 L13.8,19.5 L8,26.0 Z" fill="#f2ecf2"/><ellipse cx="5" cy="10" rx="0.80" ry="0.80" fill="#4a14f5"/><ellipse cx="5" cy="10" rx="0.58" ry="0.58" fill="#2028ff"/><ellipse cx="5" cy="10" rx="0.35" ry="0.35" fill="#1ad0f5"/><ellipse cx="9" cy="14" rx="0.80" ry="0.80" fill="#4a14f5"/><ellipse cx="9" cy="14" rx="0.58" ry="0.58" fill="#2028ff"/><ellipse cx="9" cy="14" rx="0.35" ry="0.35" fill="#1ad0f5"/><ellipse cx="11" cy="9" rx="0.80" ry="0.80" fill="#4a14f5"/><ellipse cx="11" cy="9" rx="0.58" ry="0.58" fill="#2028ff"/><ellipse cx="11" cy="9" rx="0.35" ry="0.35" fill="#1ad0f5"/><ellipse cx="2" cy="27.5" rx="1.50" ry="1.50" fill="#4a14f5"/><ellipse cx="2" cy="27.5" rx="1.22" ry="1.22" fill="#2028ff"/><ellipse cx="2" cy="27.5" rx="0.94" ry="0.94" fill="#1ad0f5"/><ellipse cx="2" cy="27.5" rx="0.66" ry="0.66" fill="#40f040"/><ellipse cx="14" cy="28" rx="1.50" ry="1.50" fill="#4a14f5"/><ellipse cx="14" cy="28" rx="1.08" ry="1.08" fill="#2028ff"/><ellipse cx="14" cy="28" rx="0.66" ry="0.66" fill="#1ad0f5"/></g></g>
<g transform="translate(264.20,211.10)" clip-path="url(#cell)"><use href="#mbody"/><g filter="url(#bl)"><ellipse cx="8" cy="11" rx="5.00" ry="2.80" fill="#4a14f5"/><ellipse cx="6" cy="12" rx="2.00" ry="1.60" fill="#4a14f5"/><ellipse cx="6" cy="12" rx="0.88" ry="0.70" fill="#2028ff"/><ellipse cx="9.5" cy="10" rx="1.60" ry="1.40" fill="#4a14f5"/><ellipse cx="9.5" cy="10" rx="0.70" ry="0.62" fill="#2028ff"/><path d="M7.95,0.8 C9.3,0.8 10.2,1.8 10.8,3.2 C11.6,4.4 12.4,5.6 12.9,7.0 C13.5,8.5 13.8,10.5 13.9,12.5 C14.1,16 14.2,21 14.3,25 C14.4,28 14.9,30.5 15.3,33 L15.6,36.6 L12.3,36.6 L11.0,34.2 L9.5,35.6 L8.6,37.2 L7.3,37.2 L6.4,35.6 L4.9,34.2 L3.6,36.6 L0.3,36.6 L0.6,33 C1.0,30.5 1.5,28 1.6,25 C1.7,21 1.8,16 2.0,12.5 C2.1,10.5 2.4,8.5 3.0,7.0 C3.5,5.6 4.3,4.4 5.1,3.2 C5.7,1.8 6.6,0.8 7.95,0.8 Z" fill="#4a14f5" clip-path="url(#b230_375)"/><path d="M7.95,0.8 C9.3,0.8 10.2,1.8 10.8,3.2 C11.6,4.4 12.4,5.6 12.9,7.0 C13.5,8.5 13.8,10.5 13.9,12.5 C14.1,16 14.2,21 14.3,25 C14.4,28 14.9,30.5 15.3,33 L15.6,36.6 L12.3,36.6 L11.0,34.2 L9.5,35.6 L8.6,37.2 L7.3,37.2 L6.4,35.6 L4.9,34.2 L3.6,36.6 L0.3,36.6 L0.6,33 C1.0,30.5 1.5,28 1.6,25 C1.7,21 1.8,16 2.0,12.5 C2.1,10.5 2.4,8.5 3.0,7.0 C3.5,5.6 4.3,4.4 5.1,3.2 C5.7,1.8 6.6,0.8 7.95,0.8 Z" fill="#2028ff" clip-path="url(#b252_361)" transform="translate(8,30.2) scale(0.66,1) translate(-8,-30.2)"/><path d="M1.5,20 L14.5,20 L8,29 Z" fill="#f2ecf2"/><ellipse cx="2" cy="29" rx="1.20" ry="1.20" fill="#4a14f5"/><ellipse cx="2" cy="29" rx="0.53" ry="0.53" fill="#2028ff"/><ellipse cx="14" cy="29" rx="1.20" ry="1.20" fill="#4a14f5"/><ellipse cx="14" cy="29" rx="0.53" ry="0.53" fill="#2028ff"/></g></g>
<g transform="translate(281.40,211.10)" clip-path="url(#cell)"><use href="#mbody"/><g filter="url(#bl)"><path d="M7.95,0.8 C9.3,0.8 10.2,1.8 10.8,3.2 C11.6,4.4 12.4,5.6 12.9,7.0 C13.5,8.5 13.8,10.5 13.9,12.5 C14.1,16 14.2,21 14.3,25 C14.4,28 14.9,30.5 15.3,33 L15.6,36.6 L12.3,36.6 L11.0,34.2 L9.5,35.6 L8.6,37.2 L7.3,37.2 L6.4,35.6 L4.9,34.2 L3.6,36.6 L0.3,36.6 L0.6,33 C1.0,30.5 1.5,28 1.6,25 C1.7,21 1.8,16 2.0,12.5 C2.1,10.5 2.4,8.5 3.0,7.0 C3.5,5.6 4.3,4.4 5.1,3.2 C5.7,1.8 6.6,0.8 7.95,0.8 Z" fill="#4a14f5" clip-path="url(#b40_215)"/><path d="M7.95,0.8 C9.3,0.8 10.2,1.8 10.8,3.2 C11.6,4.4 12.4,5.6 12.9,7.0 C13.5,8.5 13.8,10.5 13.9,12.5 C14.1,16 14.2,21 14.3,25 C14.4,28 14.9,30.5 15.3,33 L15.6,36.6 L12.3,36.6 L11.0,34.2 L9.5,35.6 L8.6,37.2 L7.3,37.2 L6.4,35.6 L4.9,34.2 L3.6,36.6 L0.3,36.6 L0.6,33 C1.0,30.5 1.5,28 1.6,25 C1.7,21 1.8,16 2.0,12.5 C2.1,10.5 2.4,8.5 3.0,7.0 C3.5,5.6 4.3,4.4 5.1,3.2 C5.7,1.8 6.6,0.8 7.95,0.8 Z" fill="#2028ff" clip-path="url(#b62_201)" transform="translate(8,12.8) scale(0.66,1) translate(-8,-12.8)"/><path d="M7.95,0.8 C9.3,0.8 10.2,1.8 10.8,3.2 C11.6,4.4 12.4,5.6 12.9,7.0 C13.5,8.5 13.8,10.5 13.9,12.5 C14.1,16 14.2,21 14.3,25 C14.4,28 14.9,30.5 15.3,33 L15.6,36.6 L12.3,36.6 L11.0,34.2 L9.5,35.6 L8.6,37.2 L7.3,37.2 L6.4,35.6 L4.9,34.2 L3.6,36.6 L0.3,36.6 L0.6,33 C1.0,30.5 1.5,28 1.6,25 C1.7,21 1.8,16 2.0,12.5 C2.1,10.5 2.4,8.5 3.0,7.0 C3.5,5.6 4.3,4.4 5.1,3.2 C5.7,1.8 6.6,0.8 7.95,0.8 Z" fill="#4a14f5" clip-path="url(#b215_375)"/><path d="M7.95,0.8 C9.3,0.8 10.2,1.8 10.8,3.2 C11.6,4.4 12.4,5.6 12.9,7.0 C13.5,8.5 13.8,10.5 13.9,12.5 C14.1,16 14.2,21 14.3,25 C14.4,28 14.9,30.5 15.3,33 L15.6,36.6 L12.3,36.6 L11.0,34.2 L9.5,35.6 L8.6,37.2 L7.3,37.2 L6.4,35.6 L4.9,34.2 L3.6,36.6 L0.3,36.6 L0.6,33 C1.0,30.5 1.5,28 1.6,25 C1.7,21 1.8,16 2.0,12.5 C2.1,10.5 2.4,8.5 3.0,7.0 C3.5,5.6 4.3,4.4 5.1,3.2 C5.7,1.8 6.6,0.8 7.95,0.8 Z" fill="#2028ff" clip-path="url(#b237_361)" transform="translate(8,29.5) scale(0.66,1) translate(-8,-29.5)"/><path d="M2.2,20 L13.8,20 L8,26.5 Z" fill="#f2ecf2"/><ellipse cx="8" cy="14" rx="0.80" ry="0.80" fill="#4a14f5"/><ellipse cx="8" cy="14" rx="0.58" ry="0.58" fill="#2028ff"/><ellipse cx="8" cy="14" rx="0.35" ry="0.35" fill="#1ad0f5"/><ellipse cx="2" cy="28" rx="1.40" ry="1.40" fill="#4a14f5"/><ellipse cx="2" cy="28" rx="1.01" ry="1.01" fill="#2028ff"/><ellipse cx="2" cy="28" rx="0.62" ry="0.62" fill="#1ad0f5"/><ellipse cx="14" cy="28" rx="1.50" ry="1.50" fill="#4a14f5"/><ellipse cx="14" cy="28" rx="1.22" ry="1.22" fill="#2028ff"/><ellipse cx="14" cy="28" rx="0.94" ry="0.94" fill="#1ad0f5"/><ellipse cx="14" cy="28" rx="0.66" ry="0.66" fill="#40f040"/></g></g>
<g transform="translate(298.60,211.10)" clip-path="url(#cell)"><use href="#mbody"/><g filter="url(#bl)"><path d="M7.95,0.8 C9.3,0.8 10.2,1.8 10.8,3.2 C11.6,4.4 12.4,5.6 12.9,7.0 C13.5,8.5 13.8,10.5 13.9,12.5 C14.1,16 14.2,21 14.3,25 C14.4,28 14.9,30.5 15.3,33 L15.6,36.6 L12.3,36.6 L11.0,34.2 L9.5,35.6 L8.6,37.2 L7.3,37.2 L6.4,35.6 L4.9,34.2 L3.6,36.6 L0.3,36.6 L0.6,33 C1.0,30.5 1.5,28 1.6,25 C1.7,21 1.8,16 2.0,12.5 C2.1,10.5 2.4,8.5 3.0,7.0 C3.5,5.6 4.3,4.4 5.1,3.2 C5.7,1.8 6.6,0.8 7.95,0.8 Z" fill="#4a14f5" clip-path="url(#b50_180)"/><path d="M7.95,0.8 C9.3,0.8 10.2,1.8 10.8,3.2 C11.6,4.4 12.4,5.6 12.9,7.0 C13.5,8.5 13.8,10.5 13.9,12.5 C14.1,16 14.2,21 14.3,25 C14.4,28 14.9,30.5 15.3,33 L15.6,36.6 L12.3,36.6 L11.0,34.2 L9.5,35.6 L8.6,37.2 L7.3,37.2 L6.4,35.6 L4.9,34.2 L3.6,36.6 L0.3,36.6 L0.6,33 C1.0,30.5 1.5,28 1.6,25 C1.7,21 1.8,16 2.0,12.5 C2.1,10.5 2.4,8.5 3.0,7.0 C3.5,5.6 4.3,4.4 5.1,3.2 C5.7,1.8 6.6,0.8 7.95,0.8 Z" fill="#2028ff" clip-path="url(#b72_166)" transform="translate(8,11.5) scale(0.66,1) translate(-8,-11.5)"/><path d="M7.95,0.8 C9.3,0.8 10.2,1.8 10.8,3.2 C11.6,4.4 12.4,5.6 12.9,7.0 C13.5,8.5 13.8,10.5 13.9,12.5 C14.1,16 14.2,21 14.3,25 C14.4,28 14.9,30.5 15.3,33 L15.6,36.6 L12.3,36.6 L11.0,34.2 L9.5,35.6 L8.6,37.2 L7.3,37.2 L6.4,35.6 L4.9,34.2 L3.6,36.6 L0.3,36.6 L0.6,33 C1.0,30.5 1.5,28 1.6,25 C1.7,21 1.8,16 2.0,12.5 C2.1,10.5 2.4,8.5 3.0,7.0 C3.5,5.6 4.3,4.4 5.1,3.2 C5.7,1.8 6.6,0.8 7.95,0.8 Z" fill="#4a14f5" clip-path="url(#b220_375)"/><path d="M7.95,0.8 C9.3,0.8 10.2,1.8 10.8,3.2 C11.6,4.4 12.4,5.6 12.9,7.0 C13.5,8.5 13.8,10.5 13.9,12.5 C14.1,16 14.2,21 14.3,25 C14.4,28 14.9,30.5 15.3,33 L15.6,36.6 L12.3,36.6 L11.0,34.2 L9.5,35.6 L8.6,37.2 L7.3,37.2 L6.4,35.6 L4.9,34.2 L3.6,36.6 L0.3,36.6 L0.6,33 C1.0,30.5 1.5,28 1.6,25 C1.7,21 1.8,16 2.0,12.5 C2.1,10.5 2.4,8.5 3.0,7.0 C3.5,5.6 4.3,4.4 5.1,3.2 C5.7,1.8 6.6,0.8 7.95,0.8 Z" fill="#2028ff" clip-path="url(#b242_361)" transform="translate(8,29.8) scale(0.66,1) translate(-8,-29.8)"/><path d="M1.7000000000000002,17 L14.3,17 L8,27 Z" fill="#f2ecf2"/><ellipse cx="1.5" cy="30" rx="1.30" ry="1.30" fill="#4a14f5"/><ellipse cx="1.5" cy="30" rx="0.94" ry="0.94" fill="#2028ff"/><ellipse cx="1.5" cy="30" rx="0.57" ry="0.57" fill="#1ad0f5"/><ellipse cx="14" cy="30" rx="1.40" ry="1.40" fill="#4a14f5"/><ellipse cx="14" cy="30" rx="1.14" ry="1.14" fill="#2028ff"/><ellipse cx="14" cy="30" rx="0.88" ry="0.88" fill="#1ad0f5"/><ellipse cx="14" cy="30" rx="0.62" ry="0.62" fill="#40f040"/></g></g>
<g transform="translate(315.80,211.10)" clip-path="url(#cell)"><use href="#mbody"/><g filter="url(#bl)"><path d="M7.95,0.8 C9.3,0.8 10.2,1.8 10.8,3.2 C11.6,4.4 12.4,5.6 12.9,7.0 C13.5,8.5 13.8,10.5 13.9,12.5 C14.1,16 14.2,21 14.3,25 C14.4,28 14.9,30.5 15.3,33 L15.6,36.6 L12.3,36.6 L11.0,34.2 L9.5,35.6 L8.6,37.2 L7.3,37.2 L6.4,35.6 L4.9,34.2 L3.6,36.6 L0.3,36.6 L0.6,33 C1.0,30.5 1.5,28 1.6,25 C1.7,21 1.8,16 2.0,12.5 C2.1,10.5 2.4,8.5 3.0,7.0 C3.5,5.6 4.3,4.4 5.1,3.2 C5.7,1.8 6.6,0.8 7.95,0.8 Z" fill="#4a14f5" clip-path="url(#b40_200)"/><path d="M7.95,0.8 C9.3,0.8 10.2,1.8 10.8,3.2 C11.6,4.4 12.4,5.6 12.9,7.0 C13.5,8.5 13.8,10.5 13.9,12.5 C14.1,16 14.2,21 14.3,25 C14.4,28 14.9,30.5 15.3,33 L15.6,36.6 L12.3,36.6 L11.0,34.2 L9.5,35.6 L8.6,37.2 L7.3,37.2 L6.4,35.6 L4.9,34.2 L3.6,36.6 L0.3,36.6 L0.6,33 C1.0,30.5 1.5,28 1.6,25 C1.7,21 1.8,16 2.0,12.5 C2.1,10.5 2.4,8.5 3.0,7.0 C3.5,5.6 4.3,4.4 5.1,3.2 C5.7,1.8 6.6,0.8 7.95,0.8 Z" fill="#2028ff" clip-path="url(#b62_186)" transform="translate(8,12.0) scale(0.66,1) translate(-8,-12.0)"/><path d="M7.95,0.8 C9.3,0.8 10.2,1.8 10.8,3.2 C11.6,4.4 12.4,5.6 12.9,7.0 C13.5,8.5 13.8,10.5 13.9,12.5 C14.1,16 14.2,21 14.3,25 C14.4,28 14.9,30.5 15.3,33 L15.6,36.6 L12.3,36.6 L11.0,34.2 L9.5,35.6 L8.6,37.2 L7.3,37.2 L6.4,35.6 L4.9,34.2 L3.6,36.6 L0.3,36.6 L0.6,33 C1.0,30.5 1.5,28 1.6,25 C1.7,21 1.8,16 2.0,12.5 C2.1,10.5 2.4,8.5 3.0,7.0 C3.5,5.6 4.3,4.4 5.1,3.2 C5.7,1.8 6.6,0.8 7.95,0.8 Z" fill="#4a14f5" clip-path="url(#b215_375)"/><path d="M7.95,0.8 C9.3,0.8 10.2,1.8 10.8,3.2 C11.6,4.4 12.4,5.6 12.9,7.0 C13.5,8.5 13.8,10.5 13.9,12.5 C14.1,16 14.2,21 14.3,25 C14.4,28 14.9,30.5 15.3,33 L15.6,36.6 L12.3,36.6 L11.0,34.2 L9.5,35.6 L8.6,37.2 L7.3,37.2 L6.4,35.6 L4.9,34.2 L3.6,36.6 L0.3,36.6 L0.6,33 C1.0,30.5 1.5,28 1.6,25 C1.7,21 1.8,16 2.0,12.5 C2.1,10.5 2.4,8.5 3.0,7.0 C3.5,5.6 4.3,4.4 5.1,3.2 C5.7,1.8 6.6,0.8 7.95,0.8 Z" fill="#2028ff" clip-path="url(#b237_361)" transform="translate(8,29.5) scale(0.66,1) translate(-8,-29.5)"/><path d="M2,18.5 L14,18.5 L8,26.0 Z" fill="#f2ecf2"/><ellipse cx="8" cy="12" rx="0.80" ry="0.80" fill="#4a14f5"/><ellipse cx="8" cy="12" rx="0.58" ry="0.58" fill="#2028ff"/><ellipse cx="8" cy="12" rx="0.35" ry="0.35" fill="#1ad0f5"/><ellipse cx="1.3" cy="29" rx="1.70" ry="1.70" fill="#4a14f5"/><ellipse cx="1.3" cy="29" rx="1.51" ry="1.51" fill="#2028ff"/><ellipse cx="1.3" cy="29" rx="1.32" ry="1.32" fill="#1ad0f5"/><ellipse cx="1.3" cy="29" rx="1.13" ry="1.13" fill="#40f040"/><ellipse cx="1.3" cy="29" rx="0.94" ry="0.94" fill="#f0e818"/><ellipse cx="1.3" cy="29" rx="0.75" ry="0.75" fill="#f82010"/><ellipse cx="14" cy="29" rx="1.40" ry="1.40" fill="#4a14f5"/><ellipse cx="14" cy="29" rx="1.14" ry="1.14" fill="#2028ff"/><ellipse cx="14" cy="29" rx="0.88" ry="0.88" fill="#1ad0f5"/><ellipse cx="14" cy="29" rx="0.62" ry="0.62" fill="#40f040"/></g></g>
<g transform="translate(333.00,211.10)" clip-path="url(#cell)"><use href="#mbody"/><g filter="url(#bl)"><path d="M7.95,0.8 C9.3,0.8 10.2,1.8 10.8,3.2 C11.6,4.4 12.4,5.6 12.9,7.0 C13.5,8.5 13.8,10.5 13.9,12.5 C14.1,16 14.2,21 14.3,25 C14.4,28 14.9,30.5 15.3,33 L15.6,36.6 L12.3,36.6 L11.0,34.2 L9.5,35.6 L8.6,37.2 L7.3,37.2 L6.4,35.6 L4.9,34.2 L3.6,36.6 L0.3,36.6 L0.6,33 C1.0,30.5 1.5,28 1.6,25 C1.7,21 1.8,16 2.0,12.5 C2.1,10.5 2.4,8.5 3.0,7.0 C3.5,5.6 4.3,4.4 5.1,3.2 C5.7,1.8 6.6,0.8 7.95,0.8 Z" fill="#4a14f5" clip-path="url(#b45_200)"/><path d="M7.95,0.8 C9.3,0.8 10.2,1.8 10.8,3.2 C11.6,4.4 12.4,5.6 12.9,7.0 C13.5,8.5 13.8,10.5 13.9,12.5 C14.1,16 14.2,21 14.3,25 C14.4,28 14.9,30.5 15.3,33 L15.6,36.6 L12.3,36.6 L11.0,34.2 L9.5,35.6 L8.6,37.2 L7.3,37.2 L6.4,35.6 L4.9,34.2 L3.6,36.6 L0.3,36.6 L0.6,33 C1.0,30.5 1.5,28 1.6,25 C1.7,21 1.8,16 2.0,12.5 C2.1,10.5 2.4,8.5 3.0,7.0 C3.5,5.6 4.3,4.4 5.1,3.2 C5.7,1.8 6.6,0.8 7.95,0.8 Z" fill="#2028ff" clip-path="url(#b67_186)" transform="translate(8,12.2) scale(0.66,1) translate(-8,-12.2)"/><path d="M7.95,0.8 C9.3,0.8 10.2,1.8 10.8,3.2 C11.6,4.4 12.4,5.6 12.9,7.0 C13.5,8.5 13.8,10.5 13.9,12.5 C14.1,16 14.2,21 14.3,25 C14.4,28 14.9,30.5 15.3,33 L15.6,36.6 L12.3,36.6 L11.0,34.2 L9.5,35.6 L8.6,37.2 L7.3,37.2 L6.4,35.6 L4.9,34.2 L3.6,36.6 L0.3,36.6 L0.6,33 C1.0,30.5 1.5,28 1.6,25 C1.7,21 1.8,16 2.0,12.5 C2.1,10.5 2.4,8.5 3.0,7.0 C3.5,5.6 4.3,4.4 5.1,3.2 C5.7,1.8 6.6,0.8 7.95,0.8 Z" fill="#4a14f5" clip-path="url(#b215_375)"/><path d="M7.95,0.8 C9.3,0.8 10.2,1.8 10.8,3.2 C11.6,4.4 12.4,5.6 12.9,7.0 C13.5,8.5 13.8,10.5 13.9,12.5 C14.1,16 14.2,21 14.3,25 C14.4,28 14.9,30.5 15.3,33 L15.6,36.6 L12.3,36.6 L11.0,34.2 L9.5,35.6 L8.6,37.2 L7.3,37.2 L6.4,35.6 L4.9,34.2 L3.6,36.6 L0.3,36.6 L0.6,33 C1.0,30.5 1.5,28 1.6,25 C1.7,21 1.8,16 2.0,12.5 C2.1,10.5 2.4,8.5 3.0,7.0 C3.5,5.6 4.3,4.4 5.1,3.2 C5.7,1.8 6.6,0.8 7.95,0.8 Z" fill="#2028ff" clip-path="url(#b237_361)" transform="translate(8,29.5) scale(0.66,1) translate(-8,-29.5)"/><path d="M2,18.5 L14,18.5 L8,26.0 Z" fill="#f2ecf2"/><ellipse cx="8" cy="12" rx="0.80" ry="0.80" fill="#4a14f5"/><ellipse cx="8" cy="12" rx="0.58" ry="0.58" fill="#2028ff"/><ellipse cx="8" cy="12" rx="0.35" ry="0.35" fill="#1ad0f5"/><ellipse cx="1.8" cy="29" rx="1.50" ry="1.50" fill="#4a14f5"/><ellipse cx="1.8" cy="29" rx="1.22" ry="1.22" fill="#2028ff"/><ellipse cx="1.8" cy="29" rx="0.94" ry="0.94" fill="#1ad0f5"/><ellipse cx="1.8" cy="29" rx="0.66" ry="0.66" fill="#40f040"/><ellipse cx="14" cy="29" rx="1.50" ry="1.50" fill="#4a14f5"/><ellipse cx="14" cy="29" rx="1.22" ry="1.22" fill="#2028ff"/><ellipse cx="14" cy="29" rx="0.94" ry="0.94" fill="#1ad0f5"/><ellipse cx="14" cy="29" rx="0.66" ry="0.66" fill="#40f040"/></g></g>
<g transform="translate(357.00,211.10)" clip-path="url(#cell)"><use href="#mbody"/><g filter="url(#bl)"><path d="M7.95,0.8 C9.3,0.8 10.2,1.8 10.8,3.2 C11.6,4.4 12.4,5.6 12.9,7.0 C13.5,8.5 13.8,10.5 13.9,12.5 C14.1,16 14.2,21 14.3,25 C14.4,28 14.9,30.5 15.3,33 L15.6,36.6 L12.3,36.6 L11.0,34.2 L9.5,35.6 L8.6,37.2 L7.3,37.2 L6.4,35.6 L4.9,34.2 L3.6,36.6 L0.3,36.6 L0.6,33 C1.0,30.5 1.5,28 1.6,25 C1.7,21 1.8,16 2.0,12.5 C2.1,10.5 2.4,8.5 3.0,7.0 C3.5,5.6 4.3,4.4 5.1,3.2 C5.7,1.8 6.6,0.8 7.95,0.8 Z" fill="#4a14f5"/><path d="M7.95,0.8 C9.3,0.8 10.2,1.8 10.8,3.2 C11.6,4.4 12.4,5.6 12.9,7.0 C13.5,8.5 13.8,10.5 13.9,12.5 C14.1,16 14.2,21 14.3,25 C14.4,28 14.9,30.5 15.3,33 L15.6,36.6 L12.3,36.6 L11.0,34.2 L9.5,35.6 L8.6,37.2 L7.3,37.2 L6.4,35.6 L4.9,34.2 L3.6,36.6 L0.3,36.6 L0.6,33 C1.0,30.5 1.5,28 1.6,25 C1.7,21 1.8,16 2.0,12.5 C2.1,10.5 2.4,8.5 3.0,7.0 C3.5,5.6 4.3,4.4 5.1,3.2 C5.7,1.8 6.6,0.8 7.95,0.8 Z" fill="#2028ff" transform="translate(8,19) scale(0.82,0.92) translate(-8,-19)"/><ellipse cx="7.5" cy="6.4" rx="2.40" ry="2.20" fill="#1ad0f5"/><ellipse cx="7.5" cy="6.4" rx="1.06" ry="0.97" fill="#40f040"/><ellipse cx="5" cy="11" rx="1.50" ry="1.30" fill="#1ad0f5"/><ellipse cx="10" cy="11" rx="1.50" ry="1.30" fill="#1ad0f5"/><ellipse cx="7.9" cy="18.5" rx="5.50" ry="4.20" fill="#1ad0f5"/><ellipse cx="7.9" cy="18.5" rx="4.47" ry="3.42" fill="#40f040"/><ellipse cx="7.9" cy="18.5" rx="3.45" ry="2.63" fill="#f0e818"/><ellipse cx="7.9" cy="18.5" rx="2.42" ry="1.85" fill="#f82010"/><ellipse cx="3.5" cy="26.2" rx="2.00" ry="2.00" fill="#1ad0f5"/><ellipse cx="3.5" cy="26.2" rx="1.63" ry="1.63" fill="#40f040"/><ellipse cx="3.5" cy="26.2" rx="1.25" ry="1.25" fill="#f0e818"/><ellipse cx="3.5" cy="26.2" rx="0.88" ry="0.88" fill="#f82010"/><ellipse cx="14.2" cy="27.2" rx="2.00" ry="2.00" fill="#1ad0f5"/><ellipse cx="14.2" cy="27.2" rx="1.63" ry="1.63" fill="#40f040"/><ellipse cx="14.2" cy="27.2" rx="1.25" ry="1.25" fill="#f0e818"/><ellipse cx="14.2" cy="27.2" rx="0.88" ry="0.88" fill="#f82010"/><ellipse cx="5" cy="29.5" rx="1.60" ry="1.60" fill="#1ad0f5"/><ellipse cx="10" cy="30" rx="1.60" ry="1.60" fill="#1ad0f5"/><ellipse cx="8" cy="33.5" rx="1.50" ry="1.50" fill="#1ad0f5"/></g></g>
<g transform="translate(374.20,211.10)" clip-path="url(#cell)"><use href="#mbody"/><g filter="url(#bl)"><path d="M7.95,0.8 C9.3,0.8 10.2,1.8 10.8,3.2 C11.6,4.4 12.4,5.6 12.9,7.0 C13.5,8.5 13.8,10.5 13.9,12.5 C14.1,16 14.2,21 14.3,25 C14.4,28 14.9,30.5 15.3,33 L15.6,36.6 L12.3,36.6 L11.0,34.2 L9.5,35.6 L8.6,37.2 L7.3,37.2 L6.4,35.6 L4.9,34.2 L3.6,36.6 L0.3,36.6 L0.6,33 C1.0,30.5 1.5,28 1.6,25 C1.7,21 1.8,16 2.0,12.5 C2.1,10.5 2.4,8.5 3.0,7.0 C3.5,5.6 4.3,4.4 5.1,3.2 C5.7,1.8 6.6,0.8 7.95,0.8 Z" fill="#4a14f5"/><path d="M7.95,0.8 C9.3,0.8 10.2,1.8 10.8,3.2 C11.6,4.4 12.4,5.6 12.9,7.0 C13.5,8.5 13.8,10.5 13.9,12.5 C14.1,16 14.2,21 14.3,25 C14.4,28 14.9,30.5 15.3,33 L15.6,36.6 L12.3,36.6 L11.0,34.2 L9.5,35.6 L8.6,37.2 L7.3,37.2 L6.4,35.6 L4.9,34.2 L3.6,36.6 L0.3,36.6 L0.6,33 C1.0,30.5 1.5,28 1.6,25 C1.7,21 1.8,16 2.0,12.5 C2.1,10.5 2.4,8.5 3.0,7.0 C3.5,5.6 4.3,4.4 5.1,3.2 C5.7,1.8 6.6,0.8 7.95,0.8 Z" fill="#2028ff" transform="translate(8,19) scale(0.82,0.92) translate(-8,-19)"/><ellipse cx="7.5" cy="7" rx="2.40" ry="2.40" fill="#1ad0f5"/><ellipse cx="7.5" cy="7" rx="1.06" ry="1.06" fill="#40f040"/><ellipse cx="8" cy="13.5" rx="5.00" ry="3.20" fill="#1ad0f5"/><ellipse cx="8" cy="13.5" rx="2.20" ry="1.41" fill="#40f040"/><ellipse cx="8" cy="18.5" rx="3.60" ry="3.40" fill="#1ad0f5"/><ellipse cx="8" cy="18.5" rx="2.93" ry="2.77" fill="#40f040"/><ellipse cx="8" cy="18.5" rx="2.26" ry="2.13" fill="#f0e818"/><ellipse cx="8" cy="18.5" rx="1.58" ry="1.50" fill="#f82010"/><ellipse cx="0.8" cy="28.5" rx="2.00" ry="2.00" fill="#1ad0f5"/><ellipse cx="0.8" cy="28.5" rx="1.63" ry="1.63" fill="#40f040"/><ellipse cx="0.8" cy="28.5" rx="1.25" ry="1.25" fill="#f0e818"/><ellipse cx="0.8" cy="28.5" rx="0.88" ry="0.88" fill="#f82010"/><ellipse cx="13" cy="25.5" rx="2.00" ry="2.00" fill="#1ad0f5"/><ellipse cx="13" cy="25.5" rx="1.63" ry="1.63" fill="#40f040"/><ellipse cx="13" cy="25.5" rx="1.25" ry="1.25" fill="#f0e818"/><ellipse cx="13" cy="25.5" rx="0.88" ry="0.88" fill="#f82010"/><ellipse cx="8" cy="31" rx="2.80" ry="2.20" fill="#1ad0f5"/><ellipse cx="4" cy="33" rx="1.40" ry="1.40" fill="#1ad0f5"/></g></g>
<g transform="translate(408.60,211.10)" clip-path="url(#cell)"><use href="#mbody"/><g filter="url(#bl)"><path d="M7.95,0.8 C9.3,0.8 10.2,1.8 10.8,3.2 C11.6,4.4 12.4,5.6 12.9,7.0 C13.5,8.5 13.8,10.5 13.9,12.5 C14.1,16 14.2,21 14.3,25 C14.4,28 14.9,30.5 15.3,33 L15.6,36.6 L12.3,36.6 L11.0,34.2 L9.5,35.6 L8.6,37.2 L7.3,37.2 L6.4,35.6 L4.9,34.2 L3.6,36.6 L0.3,36.6 L0.6,33 C1.0,30.5 1.5,28 1.6,25 C1.7,21 1.8,16 2.0,12.5 C2.1,10.5 2.4,8.5 3.0,7.0 C3.5,5.6 4.3,4.4 5.1,3.2 C5.7,1.8 6.6,0.8 7.95,0.8 Z" fill="#4a14f5"/><path d="M7.95,0.8 C9.3,0.8 10.2,1.8 10.8,3.2 C11.6,4.4 12.4,5.6 12.9,7.0 C13.5,8.5 13.8,10.5 13.9,12.5 C14.1,16 14.2,21 14.3,25 C14.4,28 14.9,30.5 15.3,33 L15.6,36.6 L12.3,36.6 L11.0,34.2 L9.5,35.6 L8.6,37.2 L7.3,37.2 L6.4,35.6 L4.9,34.2 L3.6,36.6 L0.3,36.6 L0.6,33 C1.0,30.5 1.5,28 1.6,25 C1.7,21 1.8,16 2.0,12.5 C2.1,10.5 2.4,8.5 3.0,7.0 C3.5,5.6 4.3,4.4 5.1,3.2 C5.7,1.8 6.6,0.8 7.95,0.8 Z" fill="#2028ff" transform="translate(8,19) scale(0.82,0.92) translate(-8,-19)"/><ellipse cx="9" cy="6.8" rx="3.80" ry="4.20" fill="#1ad0f5"/><ellipse cx="9" cy="6.8" rx="3.09" ry="3.42" fill="#40f040"/><ellipse cx="9" cy="6.8" rx="2.38" ry="2.63" fill="#f0e818"/><ellipse cx="9" cy="6.8" rx="1.67" ry="1.85" fill="#f82010"/><ellipse cx="8" cy="13" rx="3.20" ry="2.20" fill="#1ad0f5"/><ellipse cx="8.6" cy="19.3" rx="5.00" ry="3.80" fill="#1ad0f5"/><ellipse cx="8.6" cy="19.3" rx="4.07" ry="3.09" fill="#40f040"/><ellipse cx="8.6" cy="19.3" rx="3.13" ry="2.38" fill="#f0e818"/><ellipse cx="8.6" cy="19.3" rx="2.20" ry="1.67" fill="#f82010"/><ellipse cx="2.8" cy="28" rx="2.20" ry="2.20" fill="#1ad0f5"/><ellipse cx="2.8" cy="28" rx="0.97" ry="0.97" fill="#40f040"/><ellipse cx="13.4" cy="28" rx="2.20" ry="2.20" fill="#1ad0f5"/><ellipse cx="13.4" cy="28" rx="1.79" ry="1.79" fill="#40f040"/><ellipse cx="13.4" cy="28" rx="1.38" ry="1.38" fill="#f0e818"/><ellipse cx="13.4" cy="28" rx="0.97" ry="0.97" fill="#f82010"/><ellipse cx="5" cy="33" rx="1.60" ry="1.60" fill="#1ad0f5"/><ellipse cx="11" cy="33" rx="1.60" ry="1.60" fill="#1ad0f5"/></g></g>
<g transform="translate(425.80,211.10)" clip-path="url(#cell)"><use href="#mbody"/><g filter="url(#bl)"><path d="M7.95,0.8 C9.3,0.8 10.2,1.8 10.8,3.2 C11.6,4.4 12.4,5.6 12.9,7.0 C13.5,8.5 13.8,10.5 13.9,12.5 C14.1,16 14.2,21 14.3,25 C14.4,28 14.9,30.5 15.3,33 L15.6,36.6 L12.3,36.6 L11.0,34.2 L9.5,35.6 L8.6,37.2 L7.3,37.2 L6.4,35.6 L4.9,34.2 L3.6,36.6 L0.3,36.6 L0.6,33 C1.0,30.5 1.5,28 1.6,25 C1.7,21 1.8,16 2.0,12.5 C2.1,10.5 2.4,8.5 3.0,7.0 C3.5,5.6 4.3,4.4 5.1,3.2 C5.7,1.8 6.6,0.8 7.95,0.8 Z" fill="#4a14f5"/><path d="M7.95,0.8 C9.3,0.8 10.2,1.8 10.8,3.2 C11.6,4.4 12.4,5.6 12.9,7.0 C13.5,8.5 13.8,10.5 13.9,12.5 C14.1,16 14.2,21 14.3,25 C14.4,28 14.9,30.5 15.3,33 L15.6,36.6 L12.3,36.6 L11.0,34.2 L9.5,35.6 L8.6,37.2 L7.3,37.2 L6.4,35.6 L4.9,34.2 L3.6,36.6 L0.3,36.6 L0.6,33 C1.0,30.5 1.5,28 1.6,25 C1.7,21 1.8,16 2.0,12.5 C2.1,10.5 2.4,8.5 3.0,7.0 C3.5,5.6 4.3,4.4 5.1,3.2 C5.7,1.8 6.6,0.8 7.95,0.8 Z" fill="#2028ff" transform="translate(8,19) scale(0.82,0.92) translate(-8,-19)"/><ellipse cx="7.9" cy="6.1" rx="2.80" ry="3.50" fill="#1ad0f5"/><ellipse cx="7.9" cy="6.1" rx="1.23" ry="1.54" fill="#40f040"/><ellipse cx="8" cy="12" rx="2.20" ry="1.60" fill="#1ad0f5"/><ellipse cx="7.1" cy="17.1" rx="5.50" ry="3.40" fill="#1ad0f5"/><ellipse cx="7.1" cy="17.1" rx="2.42" ry="1.50" fill="#40f040"/><ellipse cx="10" cy="17" rx="1.50" ry="1.30" fill="#1ad0f5"/><ellipse cx="10" cy="17" rx="1.08" ry="0.94" fill="#40f040"/><ellipse cx="10" cy="17" rx="0.66" ry="0.57" fill="#f0e818"/><ellipse cx="2.8" cy="25.8" rx="2.00" ry="2.00" fill="#1ad0f5"/><ellipse cx="2.8" cy="25.8" rx="1.63" ry="1.63" fill="#40f040"/><ellipse cx="2.8" cy="25.8" rx="1.25" ry="1.25" fill="#f0e818"/><ellipse cx="2.8" cy="25.8" rx="0.88" ry="0.88" fill="#f82010"/><ellipse cx="13.7" cy="24.8" rx="2.00" ry="2.00" fill="#1ad0f5"/><ellipse cx="13.7" cy="24.8" rx="1.44" ry="1.44" fill="#40f040"/><ellipse cx="13.7" cy="24.8" rx="0.88" ry="0.88" fill="#f0e818"/><ellipse cx="8" cy="30" rx="1.50" ry="1.50" fill="#1ad0f5"/></g></g>
<text x="1.1" y="286.7" font-size="10.6" font-weight="bold" textLength="6.9" lengthAdjust="spacingAndGlyphs" fill="#000">C</text>
<line x1="48.7" y1="290.8" x2="60.7" y2="290.8" stroke="#8c1d3f" stroke-width="1.6" stroke-dasharray="2.3,2.0"/>
<rect x="53.1" y="289.2" width="3.2" height="3.2" fill="#8c1d3f"/>
<text x="63.3" y="292.90000000000003" font-size="7.4" textLength="43.0" lengthAdjust="spacingAndGlyphs" fill="#1a1a1a" stroke="#1a1a1a" stroke-width="0.2">WT+control T</text>
<line x1="48.7" y1="300.4" x2="60.7" y2="300.4" stroke="#1b4c5c" stroke-width="1.6" stroke-dasharray="1.3,1.9"/>
<path d="M54.7,298.29999999999995 L56.800000000000004,300.4 L54.7,302.5 L52.6,300.4 Z" fill="#1b4c5c"/>
<text x="63.3" y="302.5" font-size="7.4" textLength="59.4" lengthAdjust="spacingAndGlyphs" fill="#1a1a1a" stroke="#1a1a1a" stroke-width="0.2">CD58<tspan font-size="5.2" dy="-2.9">KO</tspan><tspan dy="2.9" dx="0.7">+control T</tspan></text>
<line x1="48.7" y1="310.2" x2="60.7" y2="310.2" stroke="#bc1c46" stroke-width="1.6"/>
<rect x="53.1" y="308.59999999999997" width="3.2" height="3.2" fill="#bc1c46"/>
<text x="63.3" y="312.3" font-size="7.4" textLength="58.4" lengthAdjust="spacingAndGlyphs" fill="#1a1a1a" stroke="#1a1a1a" stroke-width="0.2">WT+CD19 CAR T</text>
<line x1="48.7" y1="319.8" x2="60.7" y2="319.8" stroke="#1f4668" stroke-width="1.6"/>
<circle cx="54.7" cy="319.8" r="1.6" fill="#1f4668"/>
<text x="63.3" y="321.90000000000003" font-size="7.4" textLength="74.8" lengthAdjust="spacingAndGlyphs" fill="#1a1a1a" stroke="#1a1a1a" stroke-width="0.2">CD58<tspan font-size="5.2" dy="-2.9">KO</tspan><tspan dy="2.9" dx="0.7">+CD19 CAR T</tspan></text>
<path d="M42.9,333.9 V411.9 H150.8" fill="none" stroke="#2a2a2a" stroke-width="1.4"/>
<path d="M40.3,411.90h2.6 M40.3,397.00h2.6 M40.3,382.10h2.6 M40.3,367.20h2.6 M40.3,352.30h2.6 M40.3,337.40h2.6 M57.20,411.9v2.6 M85.03,411.9v2.6 M112.86,411.9v2.6 M140.69,411.9v2.6" stroke="#2a2a2a" stroke-width="1.1"/>
<text x="37.4" y="414.79999999999995" font-size="7.5" text-anchor="end" fill="#1a1a1a" stroke="#1a1a1a" stroke-width="0.2">10<tspan font-size="5.4" dy="-2.7">4</tspan></text>
<text x="37.4" y="399.9" font-size="7.5" text-anchor="end" fill="#1a1a1a" stroke="#1a1a1a" stroke-width="0.2">10<tspan font-size="5.4" dy="-2.7">5</tspan></text>
<text x="37.4" y="384.99999999999994" font-size="7.5" text-anchor="end" fill="#1a1a1a" stroke="#1a1a1a" stroke-width="0.2">10<tspan font-size="5.4" dy="-2.7">6</tspan></text>
<text x="37.4" y="370.09999999999997" font-size="7.5" text-anchor="end" fill="#1a1a1a" stroke="#1a1a1a" stroke-width="0.2">10<tspan font-size="5.4" dy="-2.7">7</tspan></text>
<text x="37.4" y="355.19999999999993" font-size="7.5" text-anchor="end" fill="#1a1a1a" stroke="#1a1a1a" stroke-width="0.2">10<tspan font-size="5.4" dy="-2.7">8</tspan></text>
<text x="37.4" y="340.29999999999995" font-size="7.5" text-anchor="end" fill="#1a1a1a" stroke="#1a1a1a" stroke-width="0.2">10<tspan font-size="5.4" dy="-2.7">9</tspan></text>
<text x="57.2" y="423.3" font-size="7.8" text-anchor="middle" fill="#1a1a1a" stroke="#1a1a1a" stroke-width="0.2">0</text>
<text x="85.03" y="423.3" font-size="7.8" text-anchor="middle" fill="#1a1a1a" stroke="#1a1a1a" stroke-width="0.2">7</text>
<text x="112.86000000000001" y="423.3" font-size="7.8" text-anchor="middle" fill="#1a1a1a" stroke="#1a1a1a" stroke-width="0.2">14</text>
<text x="140.69" y="423.3" font-size="7.8" text-anchor="middle" fill="#1a1a1a" stroke="#1a1a1a" stroke-width="0.2">21</text>
<text x="96.7" y="435.9" font-size="9.02" stroke="#1a1a1a" stroke-width="0.28" text-anchor="middle" textLength="53.4" lengthAdjust="spacingAndGlyphs" fill="#1a1a1a">Days after infusion</text>
<g transform="translate(8.3,375.5) rotate(-90)"><text x="0" y="0" font-size="8.58" stroke="#1a1a1a" stroke-width="0.28" text-anchor="middle" textLength="49.4" lengthAdjust="spacingAndGlyphs" fill="#1a1a1a">Average radiance</text></g>
<g transform="translate(19.6,375.25) rotate(-90)"><text x="0" y="0" font-size="8.36" stroke="#1a1a1a" stroke-width="0.28" text-anchor="middle" textLength="53.8" lengthAdjust="spacingAndGlyphs" fill="#1a1a1a">(photons/s/cm<tspan font-size="5.2" dy="-3">2</tspan><tspan dy="3">/sr)</tspan></text></g>
<path d="M57.20,409.28 L85.03,377.71 L112.86,367.01 L140.69,351.23" fill="none" stroke="#1f4668" stroke-width="1.7"/>
<path d="M57.20,413.76V407.41M55.70,413.76h3M55.70,407.41h3" stroke="#1f4668" stroke-width="0.9" fill="none"/>
<path d="M85.03,382.30V374.37M83.53,382.30h3M83.53,374.37h3" stroke="#1f4668" stroke-width="0.9" fill="none"/>
<path d="M140.69,352.63V349.90M139.19,352.63h3M139.19,349.90h3" stroke="#1f4668" stroke-width="0.9" fill="none"/>
<rect x="55.50" y="407.58" width="3.4" height="3.4" fill="#1f4668"/>
<rect x="83.33" y="376.01" width="3.4" height="3.4" fill="#1f4668"/>
<rect x="111.16" y="365.31" width="3.4" height="3.4" fill="#1f4668"/>
<rect x="138.99" y="349.53" width="3.4" height="3.4" fill="#1f4668"/>
<path d="M57.20,405.24 L85.03,389.27 L112.86,374.78 L140.69,362.19" fill="none" stroke="#bc1c46" stroke-width="1.7"/>
<path d="M85.03,394.38V387.27M83.53,394.38h3M83.53,387.27h3" stroke="#bc1c46" stroke-width="0.9" fill="none"/>
<path d="M112.86,377.95V372.66M111.36,377.95h3M111.36,372.66h3" stroke="#bc1c46" stroke-width="0.9" fill="none"/>
<path d="M140.69,363.77V360.54M139.19,363.77h3M139.19,360.54h3" stroke="#bc1c46" stroke-width="0.9" fill="none"/>
<rect x="55.50" y="403.54" width="3.4" height="3.4" fill="#bc1c46"/>
<rect x="83.33" y="387.57" width="3.4" height="3.4" fill="#bc1c46"/>
<rect x="111.16" y="373.08" width="3.4" height="3.4" fill="#bc1c46"/>
<rect x="138.99" y="360.49" width="3.4" height="3.4" fill="#bc1c46"/>
<path d="M57.20,405.24 L85.03,365.31 L112.86,351.28" fill="none" stroke="#8c1d3f" stroke-width="1.7" stroke-dasharray="2.3,2.0"/>
<path d="M112.86,356.05V348.28M111.36,356.05h3M111.36,348.28h3" stroke="#8c1d3f" stroke-width="0.9" fill="none"/>
<rect x="55.50" y="403.54" width="3.4" height="3.4" fill="#8c1d3f"/>
<rect x="83.33" y="363.61" width="3.4" height="3.4" fill="#8c1d3f"/>
<rect x="111.16" y="349.58" width="3.4" height="3.4" fill="#8c1d3f"/>
<line x1="144.6" y1="348.8" x2="144.6" y2="364.5" stroke="#222" stroke-width="1.0"/>
<circle cx="149.00" cy="353.90" r="0.95" fill="#1a1a1a"/>
<circle cx="149.00" cy="356.80" r="0.95" fill="#1a1a1a"/>
<circle cx="149.00" cy="359.70" r="0.95" fill="#1a1a1a"/>
<text x="194.8" y="286.8" font-size="10.6" font-weight="bold" textLength="7.0" lengthAdjust="spacingAndGlyphs" fill="#000">D</text>
<line x1="227.8" y1="290.3" x2="239.0" y2="290.3" stroke="#8c1d3f" stroke-width="1.6" stroke-dasharray="2.3,2.0"/>
<text x="242.3" y="292.40000000000003" font-size="7.4" textLength="43.7" lengthAdjust="spacingAndGlyphs" fill="#1a1a1a" stroke="#1a1a1a" stroke-width="0.2">WT+control T</text>
<line x1="227.8" y1="300.3" x2="239.0" y2="300.3" stroke="#1b4c5c" stroke-width="1.6" stroke-dasharray="1.3,1.9"/>
<text x="242.3" y="302.40000000000003" font-size="7.4" textLength="59.4" lengthAdjust="spacingAndGlyphs" fill="#1a1a1a" stroke="#1a1a1a" stroke-width="0.2">CD58<tspan font-size="5.2" dy="-2.9">KO</tspan><tspan dy="2.9" dx="0.7">+control T</tspan></text>
<line x1="227.8" y1="310.1" x2="239.0" y2="310.1" stroke="#bc1c46" stroke-width="1.6"/>
<text x="242.3" y="312.20000000000005" font-size="7.4" textLength="58.5" lengthAdjust="spacingAndGlyphs" fill="#1a1a1a" stroke="#1a1a1a" stroke-width="0.2">WT+CD19 CAR T</text>
<line x1="227.8" y1="319.8" x2="239.0" y2="319.8" stroke="#1f4668" stroke-width="1.6"/>
<text x="242.3" y="321.90000000000003" font-size="7.4" textLength="74.4" lengthAdjust="spacingAndGlyphs" fill="#1a1a1a" stroke="#1a1a1a" stroke-width="0.2">CD58<tspan font-size="5.2" dy="-2.9">KO</tspan><tspan dy="2.9" dx="0.7">+CD19 CAR T</tspan></text>
<path d="M222.8,330.3 V411.9 H337.5" fill="none" stroke="#2a2a2a" stroke-width="1.4"/>
<path d="M219.8,411.90h3.0 M219.8,373.15h3.0 M219.8,334.40h3.0 M222.80,411.9v2.6 M248.75,411.9v2.6 M274.70,411.9v2.6 M300.65,411.9v2.6 M326.60,411.9v2.6" stroke="#2a2a2a" stroke-width="1.1"/>
<text x="217.0" y="414.29999999999995" font-size="8.0" text-anchor="end" fill="#1a1a1a" stroke="#1a1a1a" stroke-width="0.2">0</text>
<text x="217.0" y="375.54999999999995" font-size="8.0" text-anchor="end" fill="#1a1a1a" stroke="#1a1a1a" stroke-width="0.2">50</text>
<text x="217.0" y="336.79999999999995" font-size="8.0" text-anchor="end" fill="#1a1a1a" stroke="#1a1a1a" stroke-width="0.2">100</text>
<text x="222.8" y="423.6" font-size="7.9" text-anchor="middle" fill="#1a1a1a" stroke="#1a1a1a" stroke-width="0.2">0</text>
<text x="248.75" y="423.6" font-size="7.9" text-anchor="middle" fill="#1a1a1a" stroke="#1a1a1a" stroke-width="0.2">10</text>
<text x="274.70000000000005" y="423.6" font-size="7.9" text-anchor="middle" fill="#1a1a1a" stroke="#1a1a1a" stroke-width="0.2">20</text>
<text x="300.65000000000003" y="423.6" font-size="7.9" text-anchor="middle" fill="#1a1a1a" stroke="#1a1a1a" stroke-width="0.2">30</text>
<text x="326.6" y="423.6" font-size="7.9" text-anchor="middle" fill="#1a1a1a" stroke="#1a1a1a" stroke-width="0.2">40</text>
<text x="281.05" y="435.4" font-size="9.02" stroke="#1a1a1a" stroke-width="0.28" text-anchor="middle" textLength="53.9" lengthAdjust="spacingAndGlyphs" fill="#1a1a1a">Days after infusion</text>
<g transform="translate(202.5,372.2) rotate(-90)"><text x="0" y="0" font-size="8.8" stroke="#1a1a1a" stroke-width="0.28" text-anchor="middle" textLength="45.5" lengthAdjust="spacingAndGlyphs" fill="#1a1a1a">Percent survival</text></g>
<path d="M256.54,334.40 H256.54 V347.34 H259.13 V373.15 H261.73 V386.09 H266.92 V398.96 H269.51 V411.90" fill="none" stroke="#1b4c5c" stroke-width="1.5" stroke-dasharray="1.3,1.3"/>
<path d="M256.54,334.40 H256.54 V347.34 H259.13 V373.15 H264.32 V386.09 H266.92 V411.90" fill="none" stroke="#8c1d3f" stroke-width="1.5" stroke-dasharray="2.2,1.5"/>
<path d="M222.80,334.40 H277.30 V360.21 H292.87 V373.15 H300.65 V386.09 H305.84 V398.96 H308.44 V411.90" fill="none" stroke="#1f4668" stroke-width="1.8"/>
<path d="M222.80,334.40 H300.65 V347.34 H305.84 V360.21 H318.81 V373.15 H321.41 V386.09 H331.79" fill="none" stroke="#bc1c46" stroke-width="1.8"/>
<line x1="335.4" y1="388.0" x2="335.4" y2="407.6" stroke="#222" stroke-width="1.0"/>
<circle cx="339.60" cy="394.90" r="0.95" fill="#1a1a1a"/>
<circle cx="339.60" cy="397.90" r="0.95" fill="#1a1a1a"/>
<circle cx="339.60" cy="400.90" r="0.95" fill="#1a1a1a"/>
<text x="388.4" y="287.2" font-size="10.6" font-weight="bold" textLength="6.2" lengthAdjust="spacingAndGlyphs" fill="#000">E</text>
<line x1="429.9" y1="290.1" x2="442.0" y2="290.1" stroke="#8c1d3f" stroke-width="1.6" stroke-dasharray="2.3,2.0"/>
<ellipse cx="435.95" cy="290.1" rx="1.9" ry="1.6" fill="#8c1d3f"/>
<text x="445.1" y="292.70000000000005" font-size="7.4" textLength="43.3" lengthAdjust="spacingAndGlyphs" fill="#1a1a1a" stroke="#1a1a1a" stroke-width="0.2">WT+control T</text>
<line x1="429.9" y1="300.2" x2="442.0" y2="300.2" stroke="#1b4c5c" stroke-width="1.6" stroke-dasharray="1.3,1.9"/>
<ellipse cx="435.95" cy="300.2" rx="1.9" ry="1.6" fill="#1b4c5c"/>
<text x="445.1" y="302.8" font-size="7.4" textLength="58.6" lengthAdjust="spacingAndGlyphs" fill="#1a1a1a" stroke="#1a1a1a" stroke-width="0.2">CD58<tspan font-size="5.2" dy="-2.9">KO</tspan><tspan dy="2.9" dx="0.7">+control T</tspan></text>
<line x1="429.9" y1="310.3" x2="442.0" y2="310.3" stroke="#bc1c46" stroke-width="1.6"/>
<ellipse cx="435.95" cy="310.3" rx="1.9" ry="1.6" fill="#bc1c46"/>
<text x="445.1" y="312.90000000000003" font-size="7.4" textLength="58.3" lengthAdjust="spacingAndGlyphs" fill="#1a1a1a" stroke="#1a1a1a" stroke-width="0.2">WT+CD19 CAR T</text>
<line x1="429.9" y1="320.1" x2="442.0" y2="320.1" stroke="#1f4668" stroke-width="1.6"/>
<ellipse cx="435.95" cy="320.1" rx="1.9" ry="1.6" fill="#1f4668"/>
<text x="445.1" y="322.70000000000005" font-size="7.4" textLength="73.9" lengthAdjust="spacingAndGlyphs" fill="#1a1a1a" stroke="#1a1a1a" stroke-width="0.2">CD58<tspan font-size="5.2" dy="-2.9">KO</tspan><tspan dy="2.9" dx="0.7">+CD19 CAR T</tspan></text>
<path d="M418.3,330.4 V411.5 H513.8" fill="none" stroke="#2a2a2a" stroke-width="1.4"/>
<path d="M415.3,411.50h3 M415.3,386.70h3 M415.3,361.90h3 M415.3,337.10h3 M446.20,411.5v2.6 M502.10,411.5v2.6" stroke="#2a2a2a" stroke-width="1.1"/>
<text x="412.3" y="414.3" font-size="8.0" text-anchor="end" fill="#1a1a1a" stroke="#1a1a1a" stroke-width="0.2">0</text>
<text x="412.3" y="389.5" font-size="8.0" text-anchor="end" fill="#1a1a1a" stroke="#1a1a1a" stroke-width="0.2">5</text>
<text x="412.3" y="364.7" font-size="8.0" text-anchor="end" fill="#1a1a1a" stroke="#1a1a1a" stroke-width="0.2">10</text>
<text x="412.3" y="339.90000000000003" font-size="8.0" text-anchor="end" fill="#1a1a1a" stroke="#1a1a1a" stroke-width="0.2">15</text>
<text x="446.2" y="423.4" font-size="8.0" text-anchor="middle" fill="#1a1a1a" stroke="#1a1a1a" stroke-width="0.2">7</text>
<text x="502.1" y="423.4" font-size="8.0" text-anchor="middle" fill="#1a1a1a" stroke="#1a1a1a" stroke-width="0.2">14</text>
<text x="466.05" y="435.5" font-size="9.02" stroke="#1a1a1a" stroke-width="0.28" text-anchor="middle" textLength="53.9" lengthAdjust="spacingAndGlyphs" fill="#1a1a1a">Days after infusion</text>
<g transform="translate(395.4,374.5) rotate(-90)"><text x="0" y="0" font-size="8.8" stroke="#1a1a1a" stroke-width="0.28" text-anchor="middle" textLength="49.2" lengthAdjust="spacingAndGlyphs" fill="#1a1a1a">CD3<tspan font-size="5.2" dy="-3">+</tspan><tspan dy="3"> T cells (%)</tspan></text></g>
<path d="M446.20,409.12 L502.10,408.28" fill="none" stroke="#8c1d3f" stroke-width="1.7" stroke-dasharray="2.3,1.8"/>
<circle cx="446.20" cy="409.12" r="1.8" fill="#8c1d3f"/>
<circle cx="502.10" cy="408.28" r="1.8" fill="#8c1d3f"/>
<path d="M446.20,406.22l2.1,2.3l-2.1,2.3l-2.1,-2.3Z" fill="#8c1d3f"/>
<path d="M446.20,403.12 L502.10,380.75" fill="none" stroke="#1f4668" stroke-width="1.7"/>
<path d="M502.10,392.16V369.34M500.60,392.16h3M500.60,369.34h3" stroke="#1f4668" stroke-width="0.9" fill="none"/>
<rect x="444.50" y="401.42" width="3.4" height="3.4" fill="#1f4668"/>
<rect x="500.40" y="379.05" width="3.4" height="3.4" fill="#1f4668"/>
<path d="M446.20,391.02 L502.10,352.48" fill="none" stroke="#bc1c46" stroke-width="1.7"/>
<path d="M446.20,394.14V388.68M444.70,394.14h3M444.70,388.68h3" stroke="#bc1c46" stroke-width="0.9" fill="none"/>
<path d="M502.10,362.10V343.05M500.60,362.10h3M500.60,343.05h3" stroke="#bc1c46" stroke-width="0.9" fill="none"/>
<rect x="444.50" y="389.32" width="3.4" height="3.4" fill="#bc1c46"/>
<rect x="500.40" y="350.78" width="3.4" height="3.4" fill="#bc1c46"/>
<circle cx="444.80" cy="385.10" r="0.95" fill="#1a1a1a"/>
<circle cx="447.80" cy="385.10" r="0.95" fill="#1a1a1a"/>
<circle cx="499.20" cy="338.60" r="0.95" fill="#1a1a1a"/>
<circle cx="502.20" cy="338.60" r="0.95" fill="#1a1a1a"/>
<circle cx="505.20" cy="338.60" r="0.95" fill="#1a1a1a"/>
<text x="1.1" y="461.3" font-size="10.6" font-weight="bold" textLength="5.6" lengthAdjust="spacingAndGlyphs" fill="#000">F</text>
<path d="M42.9,473.4 V560.2 H98.2" fill="none" stroke="#2a2a2a" stroke-width="1.4"/>
<path d="M39.8,560.20h3.1 M39.8,543.64h3.1 M39.8,527.08h3.1 M39.8,510.52h3.1 M39.8,493.96h3.1 M39.8,477.40h3.1" stroke="#2a2a2a" stroke-width="1.1"/>
<text x="37.0" y="563.1" font-size="8.0" text-anchor="end" fill="#1a1a1a" stroke="#1a1a1a" stroke-width="0.2">0</text>
<text x="37.0" y="546.54" font-size="8.0" text-anchor="end" fill="#1a1a1a" stroke="#1a1a1a" stroke-width="0.2">5000</text>
<text x="37.0" y="529.98" font-size="8.0" text-anchor="end" fill="#1a1a1a" stroke="#1a1a1a" stroke-width="0.2">10000</text>
<text x="37.0" y="513.42" font-size="8.0" text-anchor="end" fill="#1a1a1a" stroke="#1a1a1a" stroke-width="0.2">15000</text>
<text x="37.0" y="496.85999999999996" font-size="8.0" text-anchor="end" fill="#1a1a1a" stroke="#1a1a1a" stroke-width="0.2">20000</text>
<text x="37.0" y="480.29999999999995" font-size="8.0" text-anchor="end" fill="#1a1a1a" stroke="#1a1a1a" stroke-width="0.2">25000</text>
<g transform="translate(8.9,518.4) rotate(-90)"><text x="0" y="0" font-size="9.02" font-weight="bold" text-anchor="middle" textLength="28.8" lengthAdjust="spacingAndGlyphs" fill="#1a1a1a">CD25 MFI</text></g>
<rect x="50.9" y="513.5" width="15.7" height="46.70" fill="#e68c9d"/>
<rect x="74.7" y="534.1" width="15.6" height="26.10" fill="#82a6c6"/>
<path d="M58.8,495.3V531.7M54.599999999999994,495.3h8.4M54.599999999999994,531.7h8.4" stroke="#222" stroke-width="1" fill="none"/>
<path d="M82.4,529.4V538.9M78.2,529.4h8.4M78.2,538.9h8.4" stroke="#222" stroke-width="1" fill="none"/>
<rect x="57.20" y="485.70" width="3.0" height="3.0" fill="#bc1c46"/>
<rect x="57.20" y="491.40" width="3.0" height="3.0" fill="#bc1c46"/>
<rect x="51.90" y="521.90" width="3.0" height="3.0" fill="#bc1c46"/>
<rect x="57.10" y="521.90" width="3.0" height="3.0" fill="#bc1c46"/>
<rect x="62.30" y="521.90" width="3.0" height="3.0" fill="#bc1c46"/>
<rect x="57.20" y="527.50" width="3.0" height="3.0" fill="#bc1c46"/>
<circle cx="82.30" cy="524.60" r="1.5" fill="#1f4668"/>
<circle cx="76.60" cy="536.60" r="1.5" fill="#1f4668"/>
<circle cx="80.40" cy="536.60" r="1.5" fill="#1f4668"/>
<circle cx="84.20" cy="536.60" r="1.5" fill="#1f4668"/>
<circle cx="87.00" cy="536.60" r="1.5" fill="#1f4668"/>
<circle cx="89.80" cy="536.60" r="1.5" fill="#1f4668"/>
<line x1="58" y1="483.3" x2="82.3" y2="483.3" stroke="#111" stroke-width="1"/>
<circle cx="67.55" cy="479.60" r="0.95" fill="#1a1a1a"/>
<circle cx="70.45" cy="479.60" r="0.95" fill="#1a1a1a"/>
<rect x="100.8" y="478.1" width="6" height="5.2" fill="#bc1c46"/>
<rect x="100.8" y="490.0" width="6" height="5.2" fill="#1f4668"/>
<text x="110.0" y="483.8" font-size="7.4" textLength="58.8" lengthAdjust="spacingAndGlyphs" fill="#1a1a1a" stroke="#1a1a1a" stroke-width="0.2">WT+CD19 CAR T</text>
<text x="110.0" y="495.7" font-size="7.4" textLength="74.8" lengthAdjust="spacingAndGlyphs" fill="#1a1a1a" stroke="#1a1a1a" stroke-width="0.2">CD58<tspan font-size="4.9" dy="-2.9">KO</tspan><tspan dy="2.9" dx="0.8">+CD19 CAR T</tspan></text>
<text x="239.3" y="461.0" font-size="10.6" font-weight="bold" textLength="7.5" lengthAdjust="spacingAndGlyphs" fill="#000">G</text>
<g transform="translate(244.8,517.6) rotate(-90)"><text x="0" y="0" font-size="8.58" font-weight="bold" text-anchor="middle" textLength="31.2" lengthAdjust="spacingAndGlyphs" fill="#1a1a1a">IFN-γ pg/ml</text></g>
<path d="M272.4,480.2 V560.4 H346.7" fill="none" stroke="#2a2a2a" stroke-width="1.3"/>
<path d="M269.29999999999995,560.40h3.1 M269.29999999999995,545.20h3.1 M269.29999999999995,530.00h3.1 M269.29999999999995,514.80h3.1 M269.29999999999995,499.60h3.1 M269.29999999999995,484.40h3.1 M283.90,560.4v2.6 M301.40,560.4v2.6 M318.90,560.4v2.6 M336.40,560.4v2.6" stroke="#2a2a2a" stroke-width="1.1"/>
<text x="266.1" y="563.3" font-size="8.0" text-anchor="end" fill="#1a1a1a" stroke="#1a1a1a" stroke-width="0.2">0</text>
<text x="266.1" y="548.0999999999999" font-size="8.0" text-anchor="end" fill="#1a1a1a" stroke="#1a1a1a" stroke-width="0.2">200</text>
<text x="266.1" y="532.9" font-size="8.0" text-anchor="end" fill="#1a1a1a" stroke="#1a1a1a" stroke-width="0.2">400</text>
<text x="266.1" y="517.6999999999999" font-size="8.0" text-anchor="end" fill="#1a1a1a" stroke="#1a1a1a" stroke-width="0.2">600</text>
<text x="266.1" y="502.49999999999994" font-size="8.0" text-anchor="end" fill="#1a1a1a" stroke="#1a1a1a" stroke-width="0.2">800</text>
<text x="266.1" y="487.29999999999995" font-size="8.0" text-anchor="end" fill="#1a1a1a" stroke="#1a1a1a" stroke-width="0.2">1000</text>
<rect x="313.2" y="512.1" width="11.7" height="48.30" fill="#e68c9d"/>
<rect x="330.7" y="531.2" width="11.1" height="29.20" fill="#82a6c6"/>
<path d="M318.9,499.8V523.4M315.59999999999997,499.8h6.6M315.59999999999997,523.4h6.6" stroke="#222" stroke-width="1" fill="none"/>
<rect x="315.00" y="499.80" width="3.0" height="3.0" fill="#bc1c46"/>
<rect x="319.40" y="498.10" width="3.0" height="3.0" fill="#bc1c46"/>
<rect x="317.40" y="507.00" width="3.0" height="3.0" fill="#bc1c46"/>
<rect x="317.40" y="510.60" width="3.0" height="3.0" fill="#bc1c46"/>
<rect x="317.40" y="517.80" width="3.0" height="3.0" fill="#bc1c46"/>
<rect x="317.40" y="528.50" width="3.0" height="3.0" fill="#bc1c46"/>
<path d="M336.4,525.6V535.0M333.2,525.6h6.4M333.2,535.0h6.4" stroke="#222" stroke-width="1" fill="none"/>
<circle cx="336.40" cy="521.60" r="1.5" fill="#1f4668"/>
<circle cx="332.60" cy="533.60" r="1.5" fill="#1f4668"/>
<circle cx="335.10" cy="533.60" r="1.5" fill="#1f4668"/>
<circle cx="337.70" cy="533.60" r="1.5" fill="#1f4668"/>
<circle cx="340.20" cy="533.60" r="1.5" fill="#1f4668"/>
<rect x="277.10" y="558.60" width="3.0" height="3.0" fill="#bc1c46"/>
<rect x="279.22" y="559.40" width="3.0" height="3.0" fill="#bc1c46"/>
<rect x="281.34" y="558.60" width="3.0" height="3.0" fill="#bc1c46"/>
<rect x="283.46" y="559.40" width="3.0" height="3.0" fill="#bc1c46"/>
<rect x="285.58" y="558.60" width="3.0" height="3.0" fill="#bc1c46"/>
<rect x="287.70" y="559.40" width="3.0" height="3.0" fill="#bc1c46"/>
<circle cx="296.00" cy="560.10" r="1.5" fill="#1f4668"/>
<circle cx="298.16" cy="560.90" r="1.5" fill="#1f4668"/>
<circle cx="300.32" cy="560.10" r="1.5" fill="#1f4668"/>
<circle cx="302.48" cy="560.90" r="1.5" fill="#1f4668"/>
<circle cx="304.64" cy="560.10" r="1.5" fill="#1f4668"/>
<circle cx="306.80" cy="560.90" r="1.5" fill="#1f4668"/>
<g transform="translate(286.4,569.2) rotate(-45)"><text x="0" y="0" font-size="8.2" text-anchor="end" fill="#1a1a1a" stroke="#1a1a1a" stroke-width="0.2">WT+control T</text></g>
<g transform="translate(304.2,569.2) rotate(-45)"><text x="0" y="0" font-size="8.2" text-anchor="end" fill="#1a1a1a" stroke="#1a1a1a" stroke-width="0.2">CD58<tspan font-size="5.6" dy="-3">KO</tspan><tspan dy="3" dx="0.5">+control T</tspan></text></g>
<g transform="translate(321.8,569.2) rotate(-45)"><text x="0" y="0" font-size="8.2" text-anchor="end" fill="#1a1a1a" stroke="#1a1a1a" stroke-width="0.2">WT+CD19 CAR T</text></g>
<g transform="translate(339.3,569.2) rotate(-45)"><text x="0" y="0" font-size="8.2" text-anchor="end" fill="#1a1a1a" stroke="#1a1a1a" stroke-width="0.2">CD58<tspan font-size="5.6" dy="-3">KO</tspan><tspan dy="3" dx="0.5">+CD19 CAR T</tspan></text></g>
<line x1="318.1" y1="496.4" x2="337.3" y2="496.4" stroke="#111" stroke-width="1"/>
<circle cx="324.50" cy="492.10" r="0.95" fill="#1a1a1a"/>
<circle cx="327.70" cy="492.10" r="0.95" fill="#1a1a1a"/>
<circle cx="330.90" cy="492.10" r="0.95" fill="#1a1a1a"/>
<g transform="translate(383.6,521.8) rotate(-90)"><text x="0" y="0" font-size="8.58" font-weight="bold" text-anchor="middle" textLength="37.3" lengthAdjust="spacingAndGlyphs" fill="#1a1a1a">TNF-α pg/ml</text></g>
<path d="M406.0,480.6 V560.3 H480.5" fill="none" stroke="#2a2a2a" stroke-width="1.3"/>
<path d="M402.9,560.30h3.1 M402.9,545.20h3.1 M402.9,530.10h3.1 M402.9,515.00h3.1 M402.9,499.90h3.1 M402.9,484.80h3.1 M417.80,560.3v2.6 M435.10,560.3v2.6 M452.50,560.3v2.6 M469.60,560.3v2.6" stroke="#2a2a2a" stroke-width="1.1"/>
<text x="400.2" y="563.1999999999999" font-size="8.0" text-anchor="end" fill="#1a1a1a" stroke="#1a1a1a" stroke-width="0.2">0</text>
<text x="400.2" y="548.0999999999999" font-size="8.0" text-anchor="end" fill="#1a1a1a" stroke="#1a1a1a" stroke-width="0.2">20</text>
<text x="400.2" y="532.9999999999999" font-size="8.0" text-anchor="end" fill="#1a1a1a" stroke="#1a1a1a" stroke-width="0.2">40</text>
<text x="400.2" y="517.9" font-size="8.0" text-anchor="end" fill="#1a1a1a" stroke="#1a1a1a" stroke-width="0.2">60</text>
<text x="400.2" y="502.79999999999995" font-size="8.0" text-anchor="end" fill="#1a1a1a" stroke="#1a1a1a" stroke-width="0.2">80</text>
<text x="400.2" y="487.69999999999993" font-size="8.0" text-anchor="end" fill="#1a1a1a" stroke="#1a1a1a" stroke-width="0.2">100</text>
<rect x="446.9" y="508.9" width="11.2" height="51.40" fill="#e68c9d"/>
<rect x="464.0" y="525.7" width="11.9" height="34.60" fill="#82a6c6"/>
<path d="M452.5,502.8V515.5M449.2,502.8h6.6M449.2,515.5h6.6" stroke="#222" stroke-width="1" fill="none"/>
<rect x="451.00" y="496.80" width="3.0" height="3.0" fill="#bc1c46"/>
<rect x="451.00" y="503.10" width="3.0" height="3.0" fill="#bc1c46"/>
<rect x="451.00" y="505.80" width="3.0" height="3.0" fill="#bc1c46"/>
<rect x="451.00" y="508.70" width="3.0" height="3.0" fill="#bc1c46"/>
<rect x="451.00" y="511.60" width="3.0" height="3.0" fill="#bc1c46"/>
<rect x="451.00" y="514.70" width="3.0" height="3.0" fill="#bc1c46"/>
<path d="M469.6,514.0V539.0M466.3,514.0h6.6M466.3,539.0h6.6" stroke="#222" stroke-width="1" fill="none"/>
<circle cx="467.30" cy="510.60" r="1.5" fill="#1f4668"/>
<circle cx="472.30" cy="510.60" r="1.5" fill="#1f4668"/>
<circle cx="469.60" cy="526.80" r="1.5" fill="#1f4668"/>
<circle cx="469.60" cy="530.70" r="1.5" fill="#1f4668"/>
<circle cx="469.60" cy="534.60" r="1.5" fill="#1f4668"/>
<circle cx="469.60" cy="539.00" r="1.5" fill="#1f4668"/>
<rect x="410.50" y="558.50" width="3.0" height="3.0" fill="#bc1c46"/>
<rect x="412.78" y="559.30" width="3.0" height="3.0" fill="#bc1c46"/>
<rect x="415.06" y="558.50" width="3.0" height="3.0" fill="#bc1c46"/>
<rect x="417.34" y="559.30" width="3.0" height="3.0" fill="#bc1c46"/>
<rect x="419.62" y="558.50" width="3.0" height="3.0" fill="#bc1c46"/>
<rect x="421.90" y="559.30" width="3.0" height="3.0" fill="#bc1c46"/>
<circle cx="429.00" cy="560.00" r="1.5" fill="#1f4668"/>
<circle cx="431.32" cy="560.80" r="1.5" fill="#1f4668"/>
<circle cx="433.64" cy="560.00" r="1.5" fill="#1f4668"/>
<circle cx="435.96" cy="560.80" r="1.5" fill="#1f4668"/>
<circle cx="438.28" cy="560.00" r="1.5" fill="#1f4668"/>
<circle cx="440.60" cy="560.80" r="1.5" fill="#1f4668"/>
<g transform="translate(419.8,570.5) rotate(-45)"><text x="0" y="0" font-size="8.2" text-anchor="end" fill="#1a1a1a" stroke="#1a1a1a" stroke-width="0.2">WT+control T</text></g>
<g transform="translate(437.4,570.5) rotate(-45)"><text x="0" y="0" font-size="8.2" text-anchor="end" fill="#1a1a1a" stroke="#1a1a1a" stroke-width="0.2">CD58<tspan font-size="5.6" dy="-3">KO</tspan><tspan dy="3" dx="0.5">+control T</tspan></text></g>
<g transform="translate(455.4,570.5) rotate(-45)"><text x="0" y="0" font-size="8.2" text-anchor="end" fill="#1a1a1a" stroke="#1a1a1a" stroke-width="0.2">WT+CD19 CAR T</text></g>
<g transform="translate(473.0,570.5) rotate(-45)"><text x="0" y="0" font-size="8.2" text-anchor="end" fill="#1a1a1a" stroke="#1a1a1a" stroke-width="0.2">CD58<tspan font-size="5.6" dy="-3">KO</tspan><tspan dy="3" dx="0.5">+CD19 CAR T</tspan></text></g>
<line x1="452.1" y1="496.4" x2="470.6" y2="496.4" stroke="#111" stroke-width="1"/>
<circle cx="459.80" cy="492.10" r="0.95" fill="#1a1a1a"/>
<circle cx="462.80" cy="492.10" r="0.95" fill="#1a1a1a"/>
</svg>
</body></html>
